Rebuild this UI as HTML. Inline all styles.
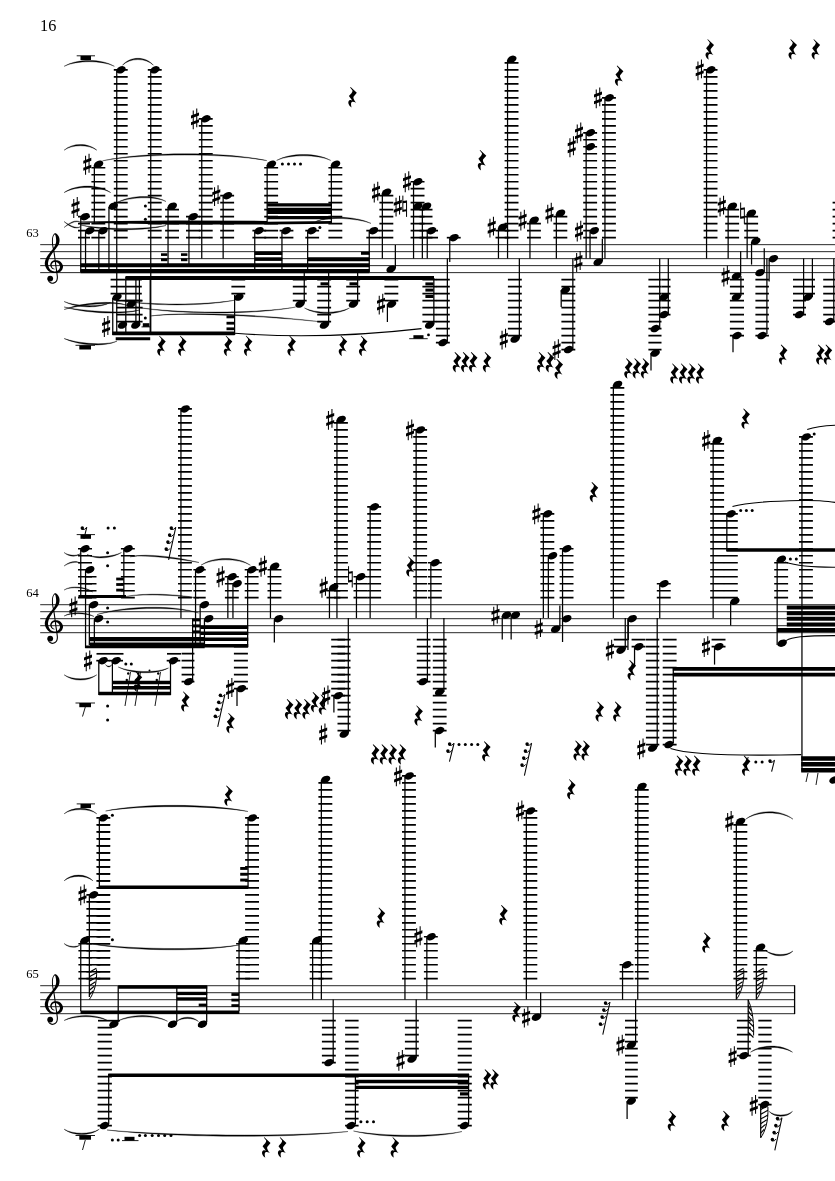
<!DOCTYPE html>
<html><head><meta charset="utf-8"><title>Score page 16</title>
<style>html,body{margin:0;padding:0;background:#fff}svg{display:block;will-change:transform}text{font-family:"Liberation Serif","DejaVu Serif",serif;fill:#000;stroke:none}</style>
</head><body>
<svg width="835" height="1181" viewBox="0 0 835 1181" fill="#000" stroke="#000" stroke-width="0">
<defs>
<ellipse id="nh" cx="0" cy="0" rx="4.95" ry="3.4" transform="rotate(-25)"/>
<g id="sh"><path d="M-1.75 -8.4V10.4M1.75 -10.4V8.4" fill="none" stroke-width="1.05"/><path d="M-4 -2.1L4 -5.1V-2.1L-4 0.9ZM-4 4.8L4 1.8V4.8L-4 7.8Z" transform="translate(0,-1.3)"/></g>
<g id="na"><path d="M-1.85 -10.6V5.6M1.85 -5.6V10.7" fill="none" stroke-width="1.0"/><path d="M-1.85 -3L1.85 -3.5V-5.6L-1.85 -5.1ZM-1.85 5.6L1.85 5.1V3L-1.85 3.5Z"/></g>
<path id="qr" transform="translate(0.5,0.6) scale(1.03)" d="M-1.9 -9.9L4.1 -4.3L0.9 -0.5C0.6 0.8 1 2.2 3.5 5.5C1.8 4.6 0.4 4.2 -0.7 4.6C-1.9 5.2 -1.6 7.6 -1 10C-3.2 8.6 -4.8 6 -3.9 4C-3.2 2.4 -1.4 2.6 -0.4 3.2L-3.6 -1.2C-1.8 -3 0.2 -5.2 -0.1 -6.6L-2.4 -9.5Z"/>
<g id="clef"><path d="M9.73 10.33L9.53 10.21L9.32 10.10L9.10 9.99L8.89 9.89L8.68 9.79L8.48 9.69L8.29 9.59L8.12 9.49L7.96 9.37L7.82 9.25L7.69 9.12L7.58 8.98L7.47 8.80L7.35 8.59L7.23 8.37L7.11 8.12L7.00 7.87L6.91 7.62L6.83 7.36L6.76 7.10L6.72 6.86L6.69 6.63L6.68 6.43L6.70 6.24L6.73 6.06L6.79 5.87L6.86 5.65L6.96 5.43L7.07 5.21L7.20 4.99L7.33 4.77L7.48 4.56L7.64 4.37L7.80 4.19L7.96 4.04L8.11 3.92L8.27 3.80L8.44 3.70L8.61 3.60L8.80 3.52L9.00 3.44L9.20 3.38L9.42 3.32L9.63 3.29L9.86 3.26L10.08 3.26L10.31 3.27L10.54 3.30L10.79 3.35L11.06 3.41L11.34 3.49L11.63 3.59L11.92 3.70L12.20 3.83L12.48 3.97L12.74 4.12L12.98 4.28L13.19 4.44L13.38 4.61L13.54 4.77L13.71 4.97L13.89 5.21L14.08 5.47L14.27 5.75L14.44 6.05L14.61 6.35L14.75 6.65L14.87 6.95L14.97 7.23L15.04 7.48L15.08 7.70L15.10 7.88L15.10 8.07L15.09 8.30L15.05 8.55L14.99 8.83L14.91 9.12L14.80 9.41L14.69 9.70L14.55 9.99L14.41 10.26L14.25 10.51L14.09 10.74L13.92 10.94L13.74 11.14L13.52 11.35L13.27 11.56L13.00 11.77L12.70 11.98L12.38 12.17L12.04 12.34L11.68 12.49L11.32 12.62L10.95 12.71L10.58 12.78L10.20 12.80L9.80 12.79L9.37 12.75L8.93 12.68L8.47 12.59L8.00 12.47L7.55 12.32L7.10 12.14L6.68 11.94L6.28 11.72L5.92 11.49L5.60 11.24L5.33 10.97L5.07 10.67L4.82 10.32L4.57 9.92L4.34 9.48L4.12 9.02L3.92 8.53L3.73 8.04L3.57 7.54L3.44 7.05L3.33 6.58L3.24 6.13L3.18 5.73L3.14 5.36L3.13 4.99L3.13 4.61L3.16 4.22L3.20 3.82L3.27 3.41L3.35 2.98L3.45 2.55L3.57 2.11L3.70 1.66L3.84 1.20L3.99 0.75L4.15 0.33L4.33 -0.10L4.53 -0.54L4.75 -0.99L4.99 -1.45L5.25 -1.91L5.52 -2.38L5.80 -2.84L6.09 -3.31L6.39 -3.79L6.69 -4.25L6.98 -4.71L7.28 -5.15L7.58 -5.58L7.90 -6.02L8.23 -6.45L8.57 -6.89L8.92 -7.32L9.27 -7.76L9.62 -8.20L9.97 -8.64L10.31 -9.08L10.65 -9.53L10.96 -9.97L11.26 -10.39L11.56 -10.80L11.86 -11.21L12.16 -11.62L12.45 -12.04L12.74 -12.45L13.02 -12.88L13.29 -13.31L13.54 -13.76L13.77 -14.22L13.97 -14.69L14.14 -15.18L14.29 -15.67L14.40 -16.17L14.50 -16.67L14.57 -17.16L14.61 -17.66L14.64 -18.15L14.64 -18.64L14.62 -19.12L14.58 -19.59L14.51 -20.05L14.43 -20.49L14.32 -20.93L14.17 -21.39L13.98 -21.84L13.77 -22.28L13.53 -22.71L13.27 -23.11L13.00 -23.50L12.72 -23.86L12.44 -24.19L12.16 -24.49L11.88 -24.76L11.61 -24.99L11.34 -25.19L11.05 -25.35L10.74 -25.45L10.43 -25.49L10.14 -25.46L9.87 -25.38L9.65 -25.27L9.44 -25.13L9.27 -24.97L9.10 -24.80L8.95 -24.62L8.81 -24.43L8.68 -24.24L8.55 -24.04L8.41 -23.82L8.28 -23.58L8.14 -23.32L8.00 -23.05L7.87 -22.75L7.74 -22.44L7.62 -22.10L7.51 -21.75L7.41 -21.37L7.32 -20.98L7.25 -20.56L7.20 -20.13L7.15 -19.67L7.11 -19.20L7.08 -18.70L7.06 -18.19L7.05 -17.65L7.05 -17.10L7.06 -16.54L7.08 -15.96L7.11 -15.37L7.15 -14.76L7.20 -14.15L7.27 -13.53L7.36 -12.90L7.46 -12.28L7.57 -11.64L7.70 -11.00L7.83 -10.34L7.96 -9.66L8.10 -8.95L8.24 -8.22L8.39 -7.46L8.52 -6.66L8.66 -5.82L8.79 -4.91L8.93 -3.92L9.07 -2.88L9.22 -1.79L9.37 -0.67L9.52 0.47L9.67 1.60L9.82 2.72L9.96 3.82L10.10 4.87L10.23 5.86L10.36 6.78L10.48 7.64L10.60 8.47L10.71 9.27L10.83 10.04L10.94 10.78L11.04 11.49L11.15 12.17L11.24 12.82L11.33 13.45L11.41 14.05L11.49 14.62L11.55 15.17L11.62 15.68L11.67 16.16L11.73 16.59L11.78 17.00L11.82 17.37L11.86 17.71L11.89 18.04L11.90 18.35L11.91 18.64L11.90 18.94L11.89 19.23L11.85 19.53L11.81 19.85L11.76 20.15L11.70 20.45L11.64 20.75L11.56 21.03L11.47 21.30L11.37 21.56L11.26 21.80L11.14 22.03L11.01 22.24L10.86 22.44L10.70 22.62L10.52 22.79L10.30 22.96L10.06 23.13L9.80 23.29L9.52 23.44L9.23 23.57L8.93 23.69L8.64 23.79L8.35 23.88L8.07 23.94L7.82 23.98L7.58 24.00L7.36 24.00L7.13 23.97L6.89 23.92L6.63 23.85L6.37 23.76L6.11 23.66L5.85 23.54L5.60 23.41L5.36 23.26L5.13 23.12L4.92 22.97L4.73 22.83L4.58 22.69L4.45 22.54L4.32 22.38L4.21 22.20L4.10 22.01L4.00 21.80L3.90 21.58L3.80 21.35L3.70 21.12L3.60 20.88L3.48 20.65L3.36 20.42L2.64 20.78L2.74 21.00L2.83 21.21L2.91 21.44L3.00 21.67L3.08 21.91L3.17 22.15L3.28 22.40L3.39 22.64L3.52 22.89L3.68 23.13L3.86 23.36L4.07 23.57L4.29 23.77L4.52 23.96L4.77 24.15L5.04 24.33L5.33 24.50L5.63 24.67L5.94 24.82L6.26 24.95L6.59 25.06L6.92 25.14L7.27 25.19L7.62 25.20L7.96 25.17L8.31 25.12L8.66 25.03L9.01 24.92L9.37 24.78L9.71 24.63L10.05 24.46L10.37 24.27L10.69 24.06L10.98 23.85L11.25 23.62L11.50 23.38L11.72 23.13L11.92 22.86L12.09 22.57L12.25 22.28L12.38 21.98L12.50 21.66L12.61 21.34L12.70 21.02L12.78 20.68L12.84 20.35L12.90 20.01L12.95 19.67L12.98 19.32L13.00 18.98L13.01 18.64L13.00 18.30L12.98 17.96L12.95 17.61L12.92 17.25L12.87 16.86L12.82 16.46L12.77 16.02L12.71 15.55L12.65 15.03L12.58 14.48L12.50 13.90L12.42 13.30L12.33 12.67L12.23 12.01L12.13 11.33L12.02 10.61L11.91 9.87L11.80 9.11L11.68 8.31L11.56 7.48L11.44 6.62L11.32 5.71L11.19 4.72L11.05 3.67L10.91 2.58L10.76 1.46L10.62 0.32L10.47 -0.81L10.32 -1.94L10.17 -3.03L10.03 -4.08L9.88 -5.07L9.74 -5.98L9.60 -6.84L9.46 -7.65L9.31 -8.43L9.16 -9.17L9.01 -9.87L8.86 -10.55L8.72 -11.20L8.59 -11.84L8.47 -12.46L8.36 -13.06L8.27 -13.66L8.20 -14.25L8.14 -14.85L8.09 -15.43L8.05 -16.01L8.02 -16.57L8.01 -17.12L8.00 -17.65L8.00 -18.16L8.01 -18.66L8.04 -19.14L8.06 -19.60L8.10 -20.03L8.15 -20.44L8.20 -20.82L8.26 -21.19L8.34 -21.53L8.42 -21.86L8.51 -22.17L8.61 -22.46L8.71 -22.73L8.82 -22.98L8.94 -23.21L9.07 -23.42L9.19 -23.60L9.32 -23.76L9.45 -23.90L9.59 -24.02L9.72 -24.12L9.85 -24.20L9.97 -24.25L10.08 -24.27L10.16 -24.26L10.21 -24.23L10.23 -24.19L10.24 -24.14L10.24 -24.09L10.26 -24.01L10.31 -23.87L10.39 -23.66L10.47 -23.40L10.56 -23.10L10.65 -22.76L10.74 -22.40L10.82 -22.03L10.90 -21.65L10.96 -21.28L11.01 -20.91L11.05 -20.58L11.08 -20.27L11.11 -19.94L11.14 -19.60L11.17 -19.25L11.20 -18.90L11.21 -18.54L11.23 -18.18L11.23 -17.81L11.22 -17.44L11.20 -17.08L11.17 -16.72L11.12 -16.37L11.06 -16.02L10.98 -15.67L10.89 -15.32L10.78 -14.95L10.65 -14.57L10.51 -14.17L10.34 -13.77L10.16 -13.36L9.97 -12.94L9.76 -12.52L9.53 -12.09L9.29 -11.66L9.04 -11.23L8.78 -10.82L8.50 -10.42L8.20 -10.01L7.87 -9.59L7.53 -9.18L7.18 -8.75L6.82 -8.32L6.45 -7.89L6.08 -7.45L5.72 -7.00L5.36 -6.54L5.02 -6.09L4.69 -5.64L4.35 -5.20L4.01 -4.75L3.67 -4.30L3.32 -3.84L2.98 -3.37L2.64 -2.89L2.32 -2.40L2.01 -1.91L1.71 -1.40L1.44 -0.88L1.21 -0.35L1.00 0.15L0.80 0.65L0.61 1.16L0.43 1.69L0.27 2.22L0.13 2.77L0.02 3.32L-0.06 3.90L-0.11 4.48L-0.11 5.07L-0.07 5.67L0.02 6.27L0.16 6.86L0.35 7.45L0.58 8.04L0.84 8.62L1.14 9.20L1.46 9.77L1.81 10.32L2.18 10.84L2.58 11.34L2.99 11.81L3.42 12.24L3.87 12.63L4.36 12.97L4.87 13.26L5.40 13.50L5.95 13.71L6.50 13.88L7.05 14.02L7.61 14.14L8.16 14.23L8.69 14.30L9.21 14.35L9.72 14.38L10.20 14.40L10.68 14.40L11.16 14.38L11.65 14.34L12.14 14.27L12.62 14.18L13.10 14.07L13.57 13.94L14.03 13.78L14.47 13.59L14.89 13.38L15.30 13.14L15.68 12.86L16.03 12.55L16.37 12.20L16.68 11.83L16.96 11.43L17.22 11.01L17.45 10.58L17.65 10.13L17.81 9.67L17.95 9.19L18.04 8.71L18.10 8.22L18.10 7.72L18.04 7.21L17.92 6.71L17.77 6.24L17.57 5.78L17.34 5.33L17.09 4.91L16.82 4.51L16.53 4.12L16.23 3.76L15.92 3.42L15.60 3.11L15.26 2.83L14.90 2.56L14.51 2.34L14.11 2.15L13.71 1.99L13.30 1.86L12.90 1.76L12.50 1.67L12.10 1.61L11.72 1.56L11.35 1.53L11.00 1.51L10.66 1.50L10.33 1.51L9.99 1.53L9.67 1.57L9.34 1.62L9.03 1.70L8.72 1.79L8.42 1.89L8.13 2.02L7.85 2.16L7.58 2.31L7.33 2.49L7.09 2.68L6.86 2.90L6.64 3.14L6.43 3.39L6.23 3.66L6.05 3.94L5.88 4.24L5.73 4.54L5.59 4.86L5.48 5.18L5.39 5.50L5.33 5.83L5.30 6.16L5.31 6.49L5.36 6.82L5.43 7.15L5.53 7.47L5.65 7.78L5.79 8.08L5.94 8.38L6.10 8.66L6.27 8.93L6.45 9.18L6.63 9.41L6.82 9.62L7.02 9.82L7.24 9.99L7.47 10.13L7.70 10.25L7.94 10.35L8.17 10.43L8.40 10.51L8.62 10.58L8.84 10.64L9.06 10.71L9.26 10.78L9.47 10.87Z"/><circle cx="5.3" cy="19.9" r="2.9"/></g>
</defs>
<text x="40" y="30.9" font-size="16.3">16</text>
<text x="26.2" y="237.3" font-size="12.6">63</text>
<line x1="40.2" y1="272.64" x2="835" y2="272.64" stroke-width="0.85"/>
<line x1="40.2" y1="265.64" x2="835" y2="265.64" stroke-width="0.85"/>
<line x1="40.2" y1="258.65" x2="835" y2="258.65" stroke-width="0.85"/>
<line x1="40.2" y1="251.66" x2="835" y2="251.66" stroke-width="0.85"/>
<line x1="40.2" y1="244.66" x2="835" y2="244.66" stroke-width="0.85"/>
<use href="#clef" x="44.9" y="258.65"/>
<path d="M64.1 66.3C76.67 60.17 101.83 60.17 114.4 66.3C101.83 58.43 76.67 58.43 64.1 66.3Z" stroke-width="0.35" stroke="#000"/>
<path d="M122.5 65.2C130.22 57.73 145.68 57.73 153.4 65.2C145.68 56 130.22 56 122.5 65.2Z" stroke-width="0.35" stroke="#000"/>
<line x1="76.7" y1="55.8" x2="95" y2="55.8" stroke-width="0.9"/>
<rect x="80.5" y="55.8" width="10.5" height="4.2"/>
<path d="M64.1 150.2C72.27 144.33 88.62 144.33 96.8 150.2C88.62 142.6 72.27 142.6 64.1 150.2Z" stroke-width="0.35" stroke="#000"/>
<path d="M64.1 192.6C75.75 185.67 99.05 185.67 110.7 192.6C99.05 183.93 75.75 183.93 64.1 192.6Z" stroke-width="0.35" stroke="#000"/>
<path d="M113.8 237.67H127.7M113.8 230.68H127.7M113.8 223.68H127.7M113.8 216.69H127.7M113.8 209.7H127.7M113.8 202.71H127.7M113.8 195.71H127.7M113.8 188.72H127.7M113.8 181.73H127.7M113.8 174.73H127.7M113.8 167.74H127.7M113.8 160.75H127.7M113.8 153.75H127.7M113.8 146.76H127.7M113.8 139.77H127.7M113.8 132.78H127.7M113.8 125.78H127.7M113.8 118.79H127.7M113.8 111.8H127.7M113.8 104.8H127.7M113.8 97.81H127.7M113.8 90.82H127.7M113.8 83.82H127.7M113.8 76.83H127.7M113.8 69.84H127.7" fill="none" stroke-width="1.7"/>
<line x1="116.75" y1="70.64" x2="116.75" y2="335" stroke-width="1.25"/>
<use href="#nh" x="121" y="69.84"/>
<path d="M147.8 237.67H161.7M147.8 230.68H161.7M147.8 223.68H161.7M147.8 216.69H161.7M147.8 209.7H161.7M147.8 202.71H161.7M147.8 195.71H161.7M147.8 188.72H161.7M147.8 181.73H161.7M147.8 174.73H161.7M147.8 167.74H161.7M147.8 160.75H161.7M147.8 153.75H161.7M147.8 146.76H161.7M147.8 139.77H161.7M147.8 132.78H161.7M147.8 125.78H161.7M147.8 118.79H161.7M147.8 111.8H161.7M147.8 104.8H161.7M147.8 97.81H161.7M147.8 90.82H161.7M147.8 83.82H161.7M147.8 76.83H161.7M147.8 69.84H161.7" fill="none" stroke-width="1.7"/>
<line x1="150.75" y1="70.64" x2="150.75" y2="335" stroke-width="1.25"/>
<use href="#nh" x="155" y="69.84"/>
<path d="M91.4 237.67H105.3M91.4 230.68H105.3M91.4 223.68H105.3M91.4 216.69H105.3M91.4 209.7H105.3M91.4 202.71H105.3M91.4 195.71H105.3M91.4 188.72H105.3M91.4 181.73H105.3M91.4 174.73H105.3M91.4 167.74H105.3" fill="none" stroke-width="1.7"/>
<line x1="94.35" y1="165.04" x2="94.35" y2="224" stroke-width="1.25"/>
<use href="#nh" x="98.6" y="164.24"/>
<use href="#sh" x="87.3" y="164.24"/>
<path d="M102.5 160.8C143.57 153.33 225.73 153.13 266.8 160.6C225.73 151.4 143.57 151.6 102.5 160.8Z" stroke-width="0.35" stroke="#000"/>
<path d="M198.8 237.67H212.7M198.8 230.68H212.7M198.8 223.68H212.7M198.8 216.69H212.7M198.8 209.7H212.7M198.8 202.71H212.7M198.8 195.71H212.7M198.8 188.72H212.7M198.8 181.73H212.7M198.8 174.73H212.7M198.8 167.74H212.7M198.8 160.75H212.7M198.8 153.75H212.7M198.8 146.76H212.7M198.8 139.77H212.7M198.8 132.78H212.7M198.8 125.78H212.7M198.8 118.79H212.7" fill="none" stroke-width="1.7"/>
<line x1="201.75" y1="119.59" x2="201.75" y2="258.5" stroke-width="1.25"/>
<use href="#nh" x="206" y="118.79"/>
<use href="#sh" x="195" y="118.79"/>
<path d="M78 237.67H90M78 230.68H90M78 223.68H90M78 216.69H90" fill="none" stroke-width="1.7"/>
<line x1="80.75" y1="217.49" x2="80.75" y2="272" stroke-width="1.25"/>
<use href="#nh" x="85" y="216.69"/>
<use href="#sh" x="75.5" y="207.5"/>
<line x1="108.95" y1="207" x2="108.95" y2="272" stroke-width="1.25"/>
<use href="#nh" x="113.2" y="206.2"/>
<path d="M116.2 203C128.65 197.13 153.55 195.63 166 201.5C153.55 193.9 128.65 195.4 116.2 203Z" stroke-width="0.35" stroke="#000"/>
<line x1="85.55" y1="231.48" x2="85.55" y2="272" stroke-width="1.25"/>
<use href="#nh" x="89.8" y="230.68"/>
<line x1="98.85" y1="231.48" x2="98.85" y2="272" stroke-width="1.25"/>
<use href="#nh" x="103.1" y="230.68"/>
<path d="M165.1 237.67H179M165.1 230.68H179M165.1 223.68H179M165.1 216.69H179M165.1 209.7H179" fill="none" stroke-width="1.7"/>
<line x1="168.05" y1="207" x2="168.05" y2="265" stroke-width="1.25"/>
<use href="#nh" x="172.3" y="206.2"/>
<path d="M186 237.67H199.9M186 230.68H199.9M186 223.68H199.9M186 216.69H199.9" fill="none" stroke-width="1.7"/>
<line x1="188.95" y1="217.49" x2="188.95" y2="265" stroke-width="1.25"/>
<use href="#nh" x="193.2" y="216.69"/>
<circle cx="145.4" cy="206" r="1.5"/>
<circle cx="145.4" cy="219.3" r="1.5"/>
<path d="M64.1 221.5C68.2 224.43 76.4 229.43 80.5 226.5C76.4 230.63 68.2 225.63 64.1 221.5Z" stroke-width="0.35" stroke="#000"/>
<path d="M64.1 227.5C68.2 224.57 76.4 219.57 80.5 222.5C76.4 218.37 68.2 223.37 64.1 227.5Z" stroke-width="0.35" stroke="#000"/>
<polygon points="80.5,221.4 120,220.9 175,220.6 267,220.9 267,224.6 175,224.4 120,223.6 80.5,222.6"/>
<polygon points="267,221.8 332,221 332,223.8 267,224.6"/>
<path d="M80.5 225C101.88 229.27 144.62 229.77 166 225.5C144.62 231.5 101.88 231 80.5 225Z" stroke-width="0.35" stroke="#000"/>
<polygon points="80.5,263.2 369.5,263.2 369.5,267.2 80.5,267.2"/>
<polygon points="80.5,269.1 369.5,269.1 369.5,273.2 80.5,273.2"/>
<rect x="161" y="253.3" width="6.4" height="2.6"/>
<rect x="161" y="258.4" width="6.4" height="2.8"/>
<rect x="181" y="253.3" width="6.4" height="2.6"/>
<rect x="181" y="258.4" width="6.4" height="2.8"/>
<polygon points="125.8,276 434,276 434,280 125.8,280"/>
<line x1="125.8" y1="276.4" x2="125.8" y2="335" stroke-width="1.25"/>
<line x1="150.2" y1="276.4" x2="150.2" y2="335" stroke-width="1.25"/>
<path d="M110.6 293.62H125.5M110.6 286.62H125.5M110.6 279.63H125.5" fill="none" stroke-width="1.7"/>
<line x1="112.75" y1="297.91" x2="112.75" y2="335" stroke-width="1.25"/>
<use href="#nh" x="117" y="297.11"/>
<path d="M125.8 300.61H141.8M125.8 293.62H141.8M125.8 286.62H141.8M125.8 279.63H141.8" fill="none" stroke-width="1.7"/>
<use href="#nh" x="131.3" y="304.1"/>
<line x1="135.9" y1="276.4" x2="135.9" y2="323" stroke-width="1.25"/>
<line x1="139.4" y1="276.4" x2="139.4" y2="323" stroke-width="1.25"/>
<path d="M116.5 321.59H142.6M116.5 314.59H142.6M116.5 307.6H142.6M116.5 300.61H142.6" fill="none" stroke-width="1.7"/>
<use href="#nh" x="122.5" y="325.08"/>
<use href="#nh" x="135.8" y="325.08"/>
<use href="#sh" x="106.1" y="326.5"/>
<rect x="142.8" y="323.2" width="6.6" height="3.7"/>
<line x1="141.5" y1="326.9" x2="150.3" y2="326.9" stroke-width="0.9"/>
<circle cx="145.3" cy="317.9" r="1.5"/>
<path d="M64.1 301.5C75.7 306.3 98.9 307.3 110.5 302.5C98.9 309.03 75.7 308.03 64.1 301.5Z" stroke-width="0.35" stroke="#000"/>
<path d="M64.1 309.5C80.07 304.97 112.03 300.97 128 305.5C112.03 299.23 80.07 303.23 64.1 309.5Z" stroke-width="0.35" stroke="#000"/>
<path d="M64.1 307C83.07 311 121.03 314 140 310C121.03 315.73 83.07 312.73 64.1 307Z" stroke-width="0.35" stroke="#000"/>
<path d="M121.5 300.5C149.62 305.3 205.88 305.1 234 300.3C205.88 306.3 149.62 306.5 121.5 300.5Z" stroke-width="0.35" stroke="#000"/>
<path d="M136 307C175.88 313.67 255.62 313.77 295.5 307.1C255.62 314.97 175.88 314.87 136 307Z" stroke-width="0.35" stroke="#000"/>
<path d="M150 316C193 311.47 279 317.47 322 322C279 316.27 193 310.27 150 316Z" stroke-width="0.35" stroke="#000"/>
<polygon points="112.4,331.6 234.6,331.6 234.6,335.2 112.4,335.2"/>
<polygon points="115.7,337.2 150.2,337.2 150.2,340.2 115.7,340.2"/>
<path d="M64.1 338.5C77.32 343.3 103.78 346 117 341.2C103.78 347.73 77.32 345.03 64.1 338.5Z" stroke-width="0.35" stroke="#000"/>
<line x1="75.5" y1="345.3" x2="95" y2="345.3" stroke-width="0.9"/>
<rect x="79.3" y="345.3" width="11.7" height="4.2"/>
<use href="#qr" x="161" y="345.3"/>
<use href="#qr" x="181.8" y="345.3"/>
<use href="#qr" x="227.6" y="345.3"/>
<use href="#qr" x="247.7" y="345.3"/>
<use href="#qr" x="291.2" y="345.3"/>
<use href="#qr" x="342.5" y="345.3"/>
<use href="#qr" x="362.7" y="345.3"/>
<path d="M235 333.3C290 337.6 350 336.8 421.5 328.6" fill="none" stroke-width="1.1"/>
<rect x="413.4" y="335.2" width="10.1" height="3.5"/>
<line x1="409.2" y1="338.7" x2="427.7" y2="338.7" stroke-width="0.9"/>
<circle cx="428.5" cy="334.9" r="1.4"/>
<path d="M220.2 237.67H234.1M220.2 230.68H234.1M220.2 223.68H234.1M220.2 216.69H234.1M220.2 209.7H234.1M220.2 202.71H234.1M220.2 195.71H234.1" fill="none" stroke-width="1.7"/>
<line x1="223.15" y1="196.51" x2="223.15" y2="258.5" stroke-width="1.25"/>
<use href="#nh" x="227.4" y="195.71"/>
<use href="#sh" x="216.3" y="195.71"/>
<path d="M264.2 237.67H278.1M264.2 230.68H278.1M264.2 223.68H278.1M264.2 216.69H278.1M264.2 209.7H278.1M264.2 202.71H278.1M264.2 195.71H278.1M264.2 188.72H278.1M264.2 181.73H278.1M264.2 174.73H278.1M264.2 167.74H278.1" fill="none" stroke-width="1.7"/>
<line x1="267.15" y1="165.04" x2="267.15" y2="222" stroke-width="1.25"/>
<use href="#nh" x="271.4" y="164.24"/>
<circle cx="282.4" cy="163.9" r="1.5"/>
<circle cx="288.5" cy="163.9" r="1.5"/>
<circle cx="294.5" cy="163.9" r="1.5"/>
<circle cx="300.5" cy="163.9" r="1.5"/>
<path d="M276.6 160.4C290.12 154.27 317.18 154.27 330.7 160.4C317.18 152.53 290.12 152.53 276.6 160.4Z" stroke-width="0.35" stroke="#000"/>
<path d="M328.4 237.67H342.3M328.4 230.68H342.3M328.4 223.68H342.3M328.4 216.69H342.3M328.4 209.7H342.3M328.4 202.71H342.3M328.4 195.71H342.3M328.4 188.72H342.3M328.4 181.73H342.3M328.4 174.73H342.3M328.4 167.74H342.3" fill="none" stroke-width="1.7"/>
<line x1="331.35" y1="165.04" x2="331.35" y2="222" stroke-width="1.25"/>
<use href="#nh" x="335.6" y="164.24"/>
<polygon points="267.2,203.2 331.8,203.2 331.8,206.5 267.2,206.5"/>
<polygon points="267.2,207.8 331.8,207.8 331.8,214 267.2,214"/>
<polygon points="267.2,216.1 331.8,216.1 331.8,219.3 267.2,219.3"/>
<path d="M252.4 237.67H266.2M252.4 230.68H266.2" fill="none" stroke-width="1.7"/>
<line x1="254.75" y1="231.48" x2="254.75" y2="272" stroke-width="1.25"/>
<use href="#nh" x="259" y="230.68"/>
<path d="M279.6 237.67H293.4M279.6 230.68H293.4" fill="none" stroke-width="1.7"/>
<line x1="281.95" y1="231.48" x2="281.95" y2="272" stroke-width="1.25"/>
<use href="#nh" x="286.2" y="230.68"/>
<path d="M305.3 237.67H319.1M305.3 230.68H319.1" fill="none" stroke-width="1.7"/>
<line x1="307.65" y1="231.48" x2="307.65" y2="272" stroke-width="1.25"/>
<use href="#nh" x="311.9" y="230.68"/>
<circle cx="319.9" cy="227.4" r="1.5"/>
<path d="M366.3 237.67H380.2M366.3 230.68H380.2" fill="none" stroke-width="1.7"/>
<line x1="369.25" y1="231.48" x2="369.25" y2="272" stroke-width="1.25"/>
<use href="#nh" x="373.5" y="230.68"/>
<path d="M315.6 221.6C329.45 216.4 357.15 218.2 371 223.4C357.15 216.47 329.45 214.67 315.6 221.6Z" stroke-width="0.35" stroke="#000"/>
<polygon points="254.8,251.5 282.2,251.5 282.2,255 254.8,255"/>
<polygon points="254.8,257.3 282.2,257.3 282.2,260.9 254.8,260.9"/>
<polygon points="307.6,257.3 369.5,257.3 369.5,261.3 307.6,261.3"/>
<rect x="361" y="251.8" width="8.5" height="3"/>
<path d="M379.4 237.67H393.3M379.4 230.68H393.3M379.4 223.68H393.3M379.4 216.69H393.3M379.4 209.7H393.3M379.4 202.71H393.3M379.4 195.71H393.3" fill="none" stroke-width="1.7"/>
<line x1="382.35" y1="193.02" x2="382.35" y2="258.5" stroke-width="1.25"/>
<use href="#nh" x="386.6" y="192.22"/>
<use href="#sh" x="376" y="192.22"/>
<use href="#sh" x="397.8" y="206.2"/>
<use href="#na" x="404.7" y="206.2"/>
<path d="M410.6 237.67H424.5M410.6 230.68H424.5M410.6 223.68H424.5M410.6 216.69H424.5M410.6 209.7H424.5M410.6 202.71H424.5M410.6 195.71H424.5M410.6 188.72H424.5M410.6 181.73H424.5" fill="none" stroke-width="1.7"/>
<line x1="413.55" y1="182.53" x2="413.55" y2="258.5" stroke-width="1.25"/>
<use href="#nh" x="417.8" y="181.73"/>
<use href="#sh" x="407" y="181.73"/>
<use href="#nh" x="417.8" y="206.2"/>
<line x1="395.35" y1="268.34" x2="395.35" y2="245" stroke-width="1.25"/>
<use href="#nh" x="391.1" y="269.14"/>
<path d="M231.4 293.62H245.2M231.4 286.62H245.2M231.4 279.63H245.2" fill="none" stroke-width="1.7"/>
<use href="#nh" x="238.9" y="297.11"/>
<line x1="234.6" y1="295" x2="234.6" y2="335" stroke-width="1.25"/>
<rect x="226.5" y="315.5" width="8" height="2.8"/>
<rect x="226.5" y="321.8" width="8" height="2.8"/>
<rect x="226.5" y="327.4" width="8" height="2.8"/>
<path d="M292.8 300.61H306.7M292.8 293.62H306.7M292.8 286.62H306.7M292.8 279.63H306.7" fill="none" stroke-width="1.7"/>
<line x1="304.25" y1="303.3" x2="304.25" y2="272" stroke-width="1.25"/>
<use href="#nh" x="300" y="304.1"/>
<path d="M317.2 321.59H331.1M317.2 314.59H331.1M317.2 307.6H331.1M317.2 300.61H331.1M317.2 293.62H331.1M317.2 286.62H331.1M317.2 279.63H331.1" fill="none" stroke-width="1.7"/>
<line x1="328.65" y1="324.28" x2="328.65" y2="272" stroke-width="1.25"/>
<use href="#nh" x="324.4" y="325.08"/>
<rect x="320.5" y="282.3" width="7.5" height="3"/>
<path d="M346.2 300.61H360.1M346.2 293.62H360.1M346.2 286.62H360.1M346.2 279.63H360.1" fill="none" stroke-width="1.7"/>
<line x1="357.65" y1="303.3" x2="357.65" y2="272" stroke-width="1.25"/>
<use href="#nh" x="353.4" y="304.1"/>
<rect x="349.5" y="282.3" width="7.5" height="3"/>
<path d="M384.4 300.61H398.3M384.4 293.62H398.3M384.4 286.62H398.3M384.4 279.63H398.3" fill="none" stroke-width="1.7"/>
<use href="#nh" x="391.6" y="304.1"/>
<use href="#sh" x="381" y="304.1"/>
<line x1="387.4" y1="304" x2="387.4" y2="322" stroke-width="1.25"/>
<path d="M304.5 308C315.75 313.6 338.25 313.6 349.5 308C338.25 315.33 315.75 315.33 304.5 308Z" stroke-width="0.35" stroke="#000"/>
<line x1="422.35" y1="207" x2="422.35" y2="258.5" stroke-width="1.25"/>
<use href="#nh" x="426.6" y="206.2"/>
<path d="M419.5 237.67H432.5M419.5 230.68H432.5M419.5 223.68H432.5M419.5 216.69H432.5M419.5 209.7H432.5" fill="none" stroke-width="1.7"/>
<path d="M425.5 237.67H438M425.5 230.68H438" fill="none" stroke-width="1.7"/>
<line x1="427.25" y1="231.48" x2="427.25" y2="258.5" stroke-width="1.25"/>
<use href="#nh" x="431.5" y="230.68"/>
<path d="M446.8 237.67H460.7" fill="none" stroke-width="1.7"/>
<line x1="449.75" y1="238.47" x2="449.75" y2="262" stroke-width="1.25"/>
<use href="#nh" x="454" y="237.67"/>
<use href="#qr" x="481.6" y="159.5"/>
<use href="#qr" x="352.1" y="96.6"/>
<path d="M495.5 237.67H509.4M495.5 230.68H509.4" fill="none" stroke-width="1.7"/>
<line x1="498.45" y1="227.98" x2="498.45" y2="258.5" stroke-width="1.25"/>
<use href="#nh" x="502.7" y="227.18"/>
<use href="#sh" x="491.7" y="227.18"/>
<path d="M504.6 237.67H518.5M504.6 230.68H518.5M504.6 223.68H518.5M504.6 216.69H518.5M504.6 209.7H518.5M504.6 202.71H518.5M504.6 195.71H518.5M504.6 188.72H518.5M504.6 181.73H518.5M504.6 174.73H518.5M504.6 167.74H518.5M504.6 160.75H518.5M504.6 153.75H518.5M504.6 146.76H518.5M504.6 139.77H518.5M504.6 132.78H518.5M504.6 125.78H518.5M504.6 118.79H518.5M504.6 111.8H518.5M504.6 104.8H518.5M504.6 97.81H518.5M504.6 90.82H518.5M504.6 83.82H518.5M504.6 76.83H518.5M504.6 69.84H518.5M504.6 62.85H518.5" fill="none" stroke-width="1.7"/>
<line x1="507.55" y1="60.15" x2="507.55" y2="258.5" stroke-width="1.25"/>
<use href="#nh" x="511.8" y="59.35"/>
<path d="M527 237.67H540.9M527 230.68H540.9M527 223.68H540.9" fill="none" stroke-width="1.7"/>
<line x1="529.95" y1="220.99" x2="529.95" y2="258.5" stroke-width="1.25"/>
<use href="#nh" x="534.2" y="220.19"/>
<use href="#sh" x="522.6" y="220.19"/>
<path d="M553.4 237.67H567.3M553.4 230.68H567.3M553.4 223.68H567.3M553.4 216.69H567.3" fill="none" stroke-width="1.7"/>
<line x1="556.35" y1="214" x2="556.35" y2="258.5" stroke-width="1.25"/>
<use href="#nh" x="560.6" y="213.2"/>
<use href="#sh" x="549.5" y="213.2"/>
<path d="M583.2 237.67H597.1M583.2 230.68H597.1M583.2 223.68H597.1M583.2 216.69H597.1M583.2 209.7H597.1M583.2 202.71H597.1M583.2 195.71H597.1M583.2 188.72H597.1M583.2 181.73H597.1M583.2 174.73H597.1M583.2 167.74H597.1M583.2 160.75H597.1M583.2 153.75H597.1M583.2 146.76H597.1M583.2 139.77H597.1M583.2 132.78H597.1" fill="none" stroke-width="1.7"/>
<line x1="586.15" y1="133.58" x2="586.15" y2="258.5" stroke-width="1.25"/>
<use href="#nh" x="590.4" y="132.78"/>
<use href="#sh" x="579" y="132.78"/>
<use href="#nh" x="590.4" y="146.76"/>
<use href="#sh" x="571.7" y="146.76"/>
<path d="M602 237.67H615.9M602 230.68H615.9M602 223.68H615.9M602 216.69H615.9M602 209.7H615.9M602 202.71H615.9M602 195.71H615.9M602 188.72H615.9M602 181.73H615.9M602 174.73H615.9M602 167.74H615.9M602 160.75H615.9M602 153.75H615.9M602 146.76H615.9M602 139.77H615.9M602 132.78H615.9M602 125.78H615.9M602 118.79H615.9M602 111.8H615.9M602 104.8H615.9M602 97.81H615.9" fill="none" stroke-width="1.7"/>
<line x1="604.95" y1="98.61" x2="604.95" y2="258.5" stroke-width="1.25"/>
<use href="#nh" x="609.2" y="97.81"/>
<use href="#sh" x="598" y="97.81"/>
<use href="#qr" x="618.7" y="75.2"/>
<line x1="590.05" y1="231.48" x2="590.05" y2="258.5" stroke-width="1.25"/>
<use href="#nh" x="594.3" y="230.68"/>
<use href="#sh" x="579" y="231.1"/>
<line x1="602.35" y1="261.35" x2="602.35" y2="238.7" stroke-width="1.25"/>
<use href="#nh" x="598.1" y="262.15"/>
<use href="#sh" x="578.4" y="261.5"/>
<path d="M422.4 321.59H436.3M422.4 314.59H436.3M422.4 307.6H436.3M422.4 300.61H436.3M422.4 293.62H436.3M422.4 286.62H436.3M422.4 279.63H436.3" fill="none" stroke-width="1.7"/>
<line x1="433.85" y1="324.28" x2="433.85" y2="278" stroke-width="1.25"/>
<use href="#nh" x="429.6" y="325.08"/>
<rect x="425.4" y="282.4" width="8.1" height="3"/>
<rect x="425.4" y="288.6" width="8.1" height="3"/>
<rect x="425.4" y="295" width="8.1" height="3"/>
<path d="M435.9 342.57H449.8M435.9 335.57H449.8M435.9 328.58H449.8M435.9 321.59H449.8M435.9 314.59H449.8M435.9 307.6H449.8M435.9 300.61H449.8M435.9 293.62H449.8M435.9 286.62H449.8M435.9 279.63H449.8" fill="none" stroke-width="1.7"/>
<line x1="447.35" y1="341.77" x2="447.35" y2="258.5" stroke-width="1.25"/>
<use href="#nh" x="443.1" y="342.57"/>
<path d="M507.9 335.57H521.8M507.9 328.58H521.8M507.9 321.59H521.8M507.9 314.59H521.8M507.9 307.6H521.8M507.9 300.61H521.8M507.9 293.62H521.8M507.9 286.62H521.8M507.9 279.63H521.8" fill="none" stroke-width="1.7"/>
<line x1="519.35" y1="338.27" x2="519.35" y2="258.5" stroke-width="1.25"/>
<use href="#nh" x="515.1" y="339.07"/>
<use href="#sh" x="503.8" y="339.07"/>
<path d="M561.4 349.56H575.3M561.4 342.57H575.3M561.4 335.57H575.3M561.4 328.58H575.3M561.4 321.59H575.3M561.4 314.59H575.3M561.4 307.6H575.3M561.4 300.61H575.3M561.4 293.62H575.3M561.4 286.62H575.3M561.4 279.63H575.3" fill="none" stroke-width="1.7"/>
<line x1="572.85" y1="348.76" x2="572.85" y2="258.5" stroke-width="1.25"/>
<use href="#nh" x="568.6" y="349.56"/>
<use href="#sh" x="556.6" y="349.56"/>
<use href="#nh" x="565.4" y="290.12"/>
<line x1="561.2" y1="290" x2="561.2" y2="307" stroke-width="1.25"/>
<use href="#qr" x="456.5" y="361.6"/>
<use href="#qr" x="464.8" y="361.6"/>
<use href="#qr" x="472.8" y="361.6"/>
<use href="#qr" x="486.6" y="361.6"/>
<use href="#qr" x="540.7" y="361.6"/>
<use href="#qr" x="549.5" y="361.6"/>
<use href="#qr" x="558.3" y="368.4"/>
<use href="#qr" x="709.3" y="48.8"/>
<use href="#qr" x="792.3" y="48.8"/>
<use href="#qr" x="815.4" y="48.8"/>
<path d="M703.6 237.67H717.5M703.6 230.68H717.5M703.6 223.68H717.5M703.6 216.69H717.5M703.6 209.7H717.5M703.6 202.71H717.5M703.6 195.71H717.5M703.6 188.72H717.5M703.6 181.73H717.5M703.6 174.73H717.5M703.6 167.74H717.5M703.6 160.75H717.5M703.6 153.75H717.5M703.6 146.76H717.5M703.6 139.77H717.5M703.6 132.78H717.5M703.6 125.78H717.5M703.6 118.79H717.5M703.6 111.8H717.5M703.6 104.8H717.5M703.6 97.81H717.5M703.6 90.82H717.5M703.6 83.82H717.5M703.6 76.83H717.5M703.6 69.84H717.5" fill="none" stroke-width="1.7"/>
<line x1="706.55" y1="70.64" x2="706.55" y2="258.5" stroke-width="1.25"/>
<use href="#nh" x="710.8" y="69.84"/>
<use href="#sh" x="699.7" y="69.84"/>
<path d="M725.2 237.67H739.1M725.2 230.68H739.1M725.2 223.68H739.1M725.2 216.69H739.1M725.2 209.7H739.1" fill="none" stroke-width="1.7"/>
<line x1="728.15" y1="207" x2="728.15" y2="258.5" stroke-width="1.25"/>
<use href="#nh" x="732.4" y="206.2"/>
<use href="#sh" x="721.8" y="206.2"/>
<path d="M744.2 237.67H758.1M744.2 230.68H758.1M744.2 223.68H758.1M744.2 216.69H758.1" fill="none" stroke-width="1.7"/>
<line x1="747.15" y1="214" x2="747.15" y2="258.5" stroke-width="1.25"/>
<use href="#nh" x="751.4" y="213.2"/>
<use href="#na" x="742.5" y="213.1"/>
<line x1="751.55" y1="241.97" x2="751.55" y2="264.6" stroke-width="1.25"/>
<use href="#nh" x="755.8" y="241.17"/>
<line x1="769.15" y1="259.45" x2="769.15" y2="281.4" stroke-width="1.25"/>
<use href="#nh" x="773.4" y="258.65"/>
<line x1="764.25" y1="271.84" x2="764.25" y2="248.3" stroke-width="1.25"/>
<use href="#nh" x="760" y="272.64"/>
<line x1="740.65" y1="275.33" x2="740.65" y2="251.3" stroke-width="1.25"/>
<use href="#nh" x="736.4" y="276.13"/>
<use href="#sh" x="725.6" y="276.13"/>
<path d="M729.9 335.57H744M729.9 328.58H744M729.9 321.59H744M729.9 314.59H744M729.9 307.6H744M729.9 300.61H744M729.9 293.62H744M729.9 286.62H744M729.9 279.63H744" fill="none" stroke-width="1.7"/>
<use href="#nh" x="736.4" y="297.11"/>
<use href="#nh" x="737" y="335.57"/>
<line x1="733" y1="335" x2="733" y2="352.3" stroke-width="1.25"/>
<path d="M755.4 335.57H768.9M755.4 328.58H768.9M755.4 321.59H768.9M755.4 314.59H768.9M755.4 307.6H768.9M755.4 300.61H768.9M755.4 293.62H768.9M755.4 286.62H768.9M755.4 279.63H768.9" fill="none" stroke-width="1.7"/>
<use href="#nh" x="762" y="335.57"/>
<line x1="766.9" y1="258.5" x2="766.9" y2="334" stroke-width="1.25"/>
<line x1="740.9" y1="276" x2="740.9" y2="296" stroke-width="1.25"/>
<path d="M648.4 349.56H661.5M648.4 342.57H661.5M648.4 335.57H661.5M648.4 328.58H661.5M648.4 321.59H661.5M648.4 314.59H661.5M648.4 307.6H661.5M648.4 300.61H661.5M648.4 293.62H661.5M648.4 286.62H661.5M648.4 279.63H661.5" fill="none" stroke-width="1.7"/>
<path d="M661.5 314.59H670.5M661.5 307.6H670.5M661.5 300.61H670.5M661.5 293.62H670.5M661.5 286.62H670.5M661.5 279.63H670.5" fill="none" stroke-width="1.7"/>
<line x1="659.7" y1="258.5" x2="659.7" y2="329" stroke-width="1.25"/>
<line x1="668.3" y1="258.5" x2="668.3" y2="314" stroke-width="1.25"/>
<use href="#nh" x="664" y="297.11"/>
<use href="#nh" x="664" y="314.59"/>
<use href="#nh" x="655.2" y="328.58"/>
<use href="#nh" x="655.2" y="353.06"/>
<line x1="651" y1="353" x2="651" y2="370.4" stroke-width="1.25"/>
<path d="M793 314.59H806M793 307.6H806M793 300.61H806M793 293.62H806M793 286.62H806M793 279.63H806" fill="none" stroke-width="1.7"/>
<path d="M806 293.62H815M806 286.62H815M806 279.63H815" fill="none" stroke-width="1.7"/>
<line x1="803.6" y1="258.5" x2="803.6" y2="315" stroke-width="1.25"/>
<line x1="812.4" y1="258.5" x2="812.4" y2="297" stroke-width="1.25"/>
<use href="#nh" x="808.1" y="297.11"/>
<use href="#nh" x="799.4" y="314.59"/>
<path d="M823.2 321.59H835M823.2 314.59H835M823.2 307.6H835M823.2 300.61H835M823.2 293.62H835M823.2 286.62H835M823.2 279.63H835" fill="none" stroke-width="1.7"/>
<line x1="833.8" y1="258.5" x2="833.8" y2="321" stroke-width="1.25"/>
<use href="#nh" x="829.6" y="321.59"/>
<path d="M832.6 237.67H835M832.6 230.68H835M832.6 223.68H835M832.6 216.69H835M832.6 209.7H835M832.6 202.71H835" fill="none" stroke-width="1.7"/>
<use href="#qr" x="628" y="367.9"/>
<use href="#qr" x="636.3" y="367.9"/>
<use href="#qr" x="644.6" y="367.9"/>
<use href="#qr" x="674" y="373"/>
<use href="#qr" x="682.8" y="373"/>
<use href="#qr" x="691.1" y="373"/>
<use href="#qr" x="699.7" y="373"/>
<use href="#qr" x="782.7" y="354.1"/>
<use href="#qr" x="819.9" y="354.1"/>
<use href="#qr" x="827.5" y="354.1"/>
<text x="26.2" y="597.2" font-size="12.6">64</text>
<line x1="40.2" y1="632.69" x2="835" y2="632.69" stroke-width="0.85"/>
<line x1="40.2" y1="625.69" x2="835" y2="625.69" stroke-width="0.85"/>
<line x1="40.2" y1="618.7" x2="835" y2="618.7" stroke-width="0.85"/>
<line x1="40.2" y1="611.71" x2="835" y2="611.71" stroke-width="0.85"/>
<line x1="40.2" y1="604.71" x2="835" y2="604.71" stroke-width="0.85"/>
<use href="#clef" x="44.9" y="618.7"/>
<line x1="76.7" y1="534.6" x2="95" y2="534.6" stroke-width="0.9"/>
<rect x="80.5" y="534.6" width="10.5" height="4.2"/>
<circle cx="82.3" cy="528.1" r="1.75"/>
<path d="M81.5 529.4Q84.7 530.3 86.6 527.5" fill="none" stroke-width="1"/>
<line x1="86.8" y1="527.2" x2="83.9" y2="538.8" stroke-width="1.05"/>
<circle cx="108.1" cy="528.1" r="1.5"/>
<circle cx="114.4" cy="528.1" r="1.5"/>
<circle cx="171.3" cy="528.1" r="1.75"/>
<path d="M170.5 529.4Q173.7 530.3 175.6 527.5" fill="none" stroke-width="1"/>
<circle cx="169.6" cy="535.09" r="1.75"/>
<path d="M168.8 536.39Q172 537.29 173.7 534.49" fill="none" stroke-width="1"/>
<circle cx="167.9" cy="542.09" r="1.75"/>
<path d="M167.1 543.39Q170.3 544.29 171.8 541.49" fill="none" stroke-width="1"/>
<circle cx="166.2" cy="549.08" r="1.75"/>
<path d="M165.4 550.38Q168.6 551.28 169.9 548.48" fill="none" stroke-width="1"/>
<line x1="175.8" y1="527.2" x2="168.6" y2="559.78" stroke-width="1.05"/>
<path d="M78 597.72H92M78 590.73H92M78 583.74H92M78 576.74H92M78 569.75H92M78 562.76H92M78 555.76H92M78 548.77H92" fill="none" stroke-width="1.7"/>
<line x1="80.75" y1="549.57" x2="80.75" y2="598" stroke-width="1.25"/>
<use href="#nh" x="85" y="548.77"/>
<path d="M120.9 597.72H134.8M120.9 590.73H134.8M120.9 583.74H134.8M120.9 576.74H134.8M120.9 569.75H134.8M120.9 562.76H134.8M120.9 555.76H134.8M120.9 548.77H134.8" fill="none" stroke-width="1.7"/>
<line x1="123.85" y1="549.57" x2="123.85" y2="598" stroke-width="1.25"/>
<use href="#nh" x="128.1" y="548.77"/>
<line x1="85.55" y1="570.55" x2="85.55" y2="648" stroke-width="1.25"/>
<use href="#nh" x="89.8" y="569.75"/>
<path d="M85.5 597.72H96.5M85.5 590.73H96.5M85.5 583.74H96.5M85.5 576.74H96.5" fill="none" stroke-width="1.7"/>
<path d="M193.4 597.72H205.7M193.4 590.73H205.7M193.4 583.74H205.7M193.4 576.74H205.7M193.4 569.75H205.7" fill="none" stroke-width="1.7"/>
<line x1="195.55" y1="570.55" x2="195.55" y2="647" stroke-width="1.25"/>
<use href="#nh" x="199.8" y="569.75"/>
<circle cx="107.6" cy="552.8" r="1.5"/>
<circle cx="107.6" cy="565.8" r="1.5"/>
<path d="M64.1 552.5C68.2 555.43 76.4 556.43 80.5 553.5C76.4 557.63 68.2 556.63 64.1 552.5Z" stroke-width="0.35" stroke="#000"/>
<path d="M64.1 566C68.2 563.33 76.4 560.83 80.5 563.5C76.4 559.63 68.2 562.13 64.1 566Z" stroke-width="0.35" stroke="#000"/>
<path d="M64.1 590C71.32 586 85.78 588 93 592C85.78 586.8 71.32 584.8 64.1 590Z" stroke-width="0.35" stroke="#000"/>
<path d="M87 554.5C95.62 558.5 112.88 556.5 121.5 552.5C112.88 558.23 95.62 560.23 87 554.5Z" stroke-width="0.35" stroke="#000"/>
<path d="M130 556.8C147.25 554.13 181.75 559.83 199 562.5C181.75 558.1 147.25 552.4 130 556.8Z" stroke-width="0.35" stroke="#000"/>
<rect x="116.2" y="577.6" width="7.6" height="2.8"/>
<rect x="116.2" y="583.1" width="7.6" height="2.8"/>
<rect x="116.2" y="588.7" width="7.6" height="2.8"/>
<polygon points="78.5,595 126,595 126,598 78.5,598"/>
<path d="M126 596.5C144.18 593.57 180.52 595.37 198.7 598.3C180.52 594.17 144.18 592.37 126 596.5Z" stroke-width="0.35" stroke="#000"/>
<use href="#sh" x="73.4" y="606.8"/>
<line x1="89.35" y1="605.51" x2="89.35" y2="645" stroke-width="1.25"/>
<use href="#nh" x="93.6" y="604.71"/>
<line x1="94.35" y1="619.5" x2="94.35" y2="646" stroke-width="1.25"/>
<use href="#nh" x="98.6" y="618.7"/>
<circle cx="107.6" cy="608" r="1.5"/>
<circle cx="107.6" cy="621.9" r="1.5"/>
<path d="M64.1 616C71.57 612.53 86.53 613.03 94 616.5C86.53 611.83 71.57 611.33 64.1 616Z" stroke-width="0.35" stroke="#000"/>
<path d="M97 614.6C122.42 607.67 173.27 606.07 198.7 613C173.27 604.33 122.42 605.93 97 614.6Z" stroke-width="0.35" stroke="#000"/>
<path d="M178 597.72H191.9M178 590.73H191.9M178 583.74H191.9M178 576.74H191.9M178 569.75H191.9M178 562.76H191.9M178 555.76H191.9M178 548.77H191.9M178 541.78H191.9M178 534.78H191.9M178 527.79H191.9M178 520.8H191.9M178 513.81H191.9M178 506.81H191.9M178 499.82H191.9M178 492.83H191.9M178 485.83H191.9M178 478.84H191.9M178 471.85H191.9M178 464.85H191.9M178 457.86H191.9M178 450.87H191.9M178 443.88H191.9M178 436.88H191.9M178 429.89H191.9M178 422.9H191.9M178 415.9H191.9M178 408.91H191.9" fill="none" stroke-width="1.7"/>
<line x1="180.95" y1="409.71" x2="180.95" y2="618" stroke-width="1.25"/>
<use href="#nh" x="185.2" y="408.91"/>
<line x1="200.15" y1="605.51" x2="200.15" y2="647" stroke-width="1.25"/>
<use href="#nh" x="204.4" y="604.71"/>
<line x1="204.45" y1="619.5" x2="204.45" y2="647" stroke-width="1.25"/>
<use href="#nh" x="208.7" y="618.7"/>
<polygon points="85.2,645.4 204.7,645.4 204.7,648.2 85.2,648.2"/>
<polygon points="89.8,637 204.7,637 204.7,641.2 89.8,641.2"/>
<polygon points="89.8,642.6 204.7,642.6 204.7,646 89.8,646"/>
<polygon points="200.3,625.4 248.2,625.4 248.2,628.9 200.3,628.9"/>
<polygon points="200.3,631.5 248.2,631.5 248.2,635 200.3,635"/>
<polygon points="200.3,637.5 248.2,637.5 248.2,641 200.3,641"/>
<polygon points="200.3,644 248.2,644 248.2,647.5 200.3,647.5"/>
<polygon points="192.6,618.4 200.3,618.4 200.3,621.4 192.6,621.4"/>
<polygon points="192.6,624.4 200.3,624.4 200.3,627.4 192.6,627.4"/>
<polygon points="192.6,630.4 200.3,630.4 200.3,633.4 192.6,633.4"/>
<line x1="192.6" y1="618.4" x2="192.6" y2="682" stroke-width="1.25"/>
<use href="#sh" x="88" y="660.8"/>
<use href="#nh" x="103.1" y="660.66"/>
<line x1="96.3" y1="660.66" x2="109.9" y2="660.66" stroke-width="1.7"/>
<use href="#nh" x="116.2" y="660.66"/>
<line x1="109.4" y1="660.66" x2="123" y2="660.66" stroke-width="1.7"/>
<use href="#nh" x="173.5" y="660.66"/>
<line x1="166.7" y1="660.66" x2="180.3" y2="660.66" stroke-width="1.7"/>
<line x1="96.5" y1="653.8" x2="123.5" y2="653.8" stroke-width="1.7"/>
<line x1="167" y1="653.8" x2="181" y2="653.8" stroke-width="1.7"/>
<line x1="98.8" y1="661" x2="98.8" y2="695" stroke-width="1.25"/>
<line x1="112.4" y1="661" x2="112.4" y2="695" stroke-width="1.25"/>
<line x1="170.5" y1="661" x2="170.5" y2="695" stroke-width="1.25"/>
<polygon points="98.8,691.8 170.8,691.8 170.8,695.3 98.8,695.3"/>
<polygon points="112.4,686 170.8,686 170.8,689.5 112.4,689.5"/>
<polygon points="112.4,680.8 170.8,680.8 170.8,684.3 112.4,684.3"/>
<circle cx="125.8" cy="664" r="1.5"/>
<circle cx="131.3" cy="664" r="1.5"/>
<path d="M64.1 674.8C72.27 680.13 88.62 680.13 96.8 674.8C88.62 681.87 72.27 681.87 64.1 674.8Z" stroke-width="0.35" stroke="#000"/>
<path d="M105.5 664.5C107.12 666.63 110.38 666.63 112 664.5C110.38 667.7 107.12 667.7 105.5 664.5Z" stroke-width="0.35" stroke="#000"/>
<path d="M118.2 667C130.78 672.33 155.93 673.33 168.5 668C155.93 675.07 130.78 674.07 118.2 667Z" stroke-width="0.35" stroke="#000"/>
<line x1="130.5" y1="672" x2="125" y2="706" stroke-width="0.9"/>
<circle cx="128.2" cy="673.5" r="1.2"/>
<circle cx="126.8" cy="680" r="1.2"/>
<line x1="140.5" y1="672" x2="135" y2="706" stroke-width="0.9"/>
<circle cx="138.2" cy="673.5" r="1.2"/>
<circle cx="136.8" cy="680" r="1.2"/>
<line x1="160.5" y1="672" x2="155" y2="706" stroke-width="0.9"/>
<circle cx="158.2" cy="673.5" r="1.2"/>
<circle cx="156.8" cy="680" r="1.2"/>
<circle cx="149.5" cy="670.5" r="1"/>
<use href="#qr" x="137.5" y="681"/>
<path d="M181.6 681.64H194.4M181.6 674.64H194.4M181.6 667.65H194.4M181.6 660.66H194.4M181.6 653.67H194.4M181.6 646.67H194.4M181.6 639.68H194.4" fill="none" stroke-width="1.7"/>
<use href="#nh" x="188.7" y="681.64"/>
<use href="#qr" x="184.9" y="701"/>
<line x1="75.5" y1="703" x2="95" y2="703" stroke-width="0.9"/>
<rect x="79.3" y="703" width="11.7" height="4.2"/>
<line x1="85.3" y1="707" x2="82.5" y2="716.5" stroke-width="0.9"/>
<circle cx="107.6" cy="706.1" r="1.5"/>
<circle cx="107.6" cy="720" r="1.5"/>
<path d="M224.9 597.72H238.8M224.9 590.73H238.8M224.9 583.74H238.8M224.9 576.74H238.8" fill="none" stroke-width="1.7"/>
<line x1="227.85" y1="577.54" x2="227.85" y2="618" stroke-width="1.25"/>
<use href="#nh" x="232.1" y="576.74"/>
<use href="#sh" x="220.6" y="576.74"/>
<line x1="232.95" y1="584.53" x2="232.95" y2="618" stroke-width="1.25"/>
<use href="#nh" x="237.2" y="583.74"/>
<path d="M244.7 597.72H258.6M244.7 590.73H258.6M244.7 583.74H258.6M244.7 576.74H258.6M244.7 569.75H258.6" fill="none" stroke-width="1.7"/>
<line x1="247.65" y1="570.55" x2="247.65" y2="647" stroke-width="1.25"/>
<use href="#nh" x="251.9" y="569.75"/>
<path d="M201 565.2C213.35 558 238.05 558 250.4 565.2C238.05 556.27 213.35 556.27 201 565.2Z" stroke-width="0.35" stroke="#000"/>
<path d="M267.5 597.72H281.4M267.5 590.73H281.4M267.5 583.74H281.4M267.5 576.74H281.4M267.5 569.75H281.4" fill="none" stroke-width="1.7"/>
<line x1="270.45" y1="567.05" x2="270.45" y2="618" stroke-width="1.25"/>
<use href="#nh" x="274.7" y="566.25"/>
<use href="#sh" x="262.8" y="566.25"/>
<line x1="274.35" y1="619.5" x2="274.35" y2="642.5" stroke-width="1.25"/>
<use href="#nh" x="278.6" y="618.7"/>
<path d="M326.5 597.72H340.4M326.5 590.73H340.4" fill="none" stroke-width="1.7"/>
<line x1="329.45" y1="588.03" x2="329.45" y2="618" stroke-width="1.25"/>
<use href="#nh" x="333.7" y="587.23"/>
<use href="#sh" x="323.7" y="587.23"/>
<path d="M334 597.72H347.9M334 590.73H347.9M334 583.74H347.9M334 576.74H347.9M334 569.75H347.9M334 562.76H347.9M334 555.76H347.9M334 548.77H347.9M334 541.78H347.9M334 534.78H347.9M334 527.79H347.9M334 520.8H347.9M334 513.81H347.9M334 506.81H347.9M334 499.82H347.9M334 492.83H347.9M334 485.83H347.9M334 478.84H347.9M334 471.85H347.9M334 464.85H347.9M334 457.86H347.9M334 450.87H347.9M334 443.88H347.9M334 436.88H347.9M334 429.89H347.9M334 422.9H347.9" fill="none" stroke-width="1.7"/>
<line x1="336.95" y1="420.2" x2="336.95" y2="618" stroke-width="1.25"/>
<use href="#nh" x="341.2" y="419.4"/>
<use href="#sh" x="330.2" y="419.4"/>
<path d="M353.5 597.72H367.4M353.5 590.73H367.4M353.5 583.74H367.4M353.5 576.74H367.4" fill="none" stroke-width="1.7"/>
<line x1="356.45" y1="577.54" x2="356.45" y2="618" stroke-width="1.25"/>
<use href="#nh" x="360.7" y="576.74"/>
<use href="#na" x="350.4" y="576.8"/>
<path d="M367.2 597.72H381.1M367.2 590.73H381.1M367.2 583.74H381.1M367.2 576.74H381.1M367.2 569.75H381.1M367.2 562.76H381.1M367.2 555.76H381.1M367.2 548.77H381.1M367.2 541.78H381.1M367.2 534.78H381.1M367.2 527.79H381.1M367.2 520.8H381.1M367.2 513.81H381.1M367.2 506.81H381.1" fill="none" stroke-width="1.7"/>
<line x1="370.15" y1="507.61" x2="370.15" y2="618" stroke-width="1.25"/>
<use href="#nh" x="374.4" y="506.81"/>
<use href="#qr" x="410" y="566"/>
<path d="M413.2 597.72H427.1M413.2 590.73H427.1M413.2 583.74H427.1M413.2 576.74H427.1M413.2 569.75H427.1M413.2 562.76H427.1M413.2 555.76H427.1M413.2 548.77H427.1M413.2 541.78H427.1M413.2 534.78H427.1M413.2 527.79H427.1M413.2 520.8H427.1M413.2 513.81H427.1M413.2 506.81H427.1M413.2 499.82H427.1M413.2 492.83H427.1M413.2 485.83H427.1M413.2 478.84H427.1M413.2 471.85H427.1M413.2 464.85H427.1M413.2 457.86H427.1M413.2 450.87H427.1M413.2 443.88H427.1M413.2 436.88H427.1M413.2 429.89H427.1" fill="none" stroke-width="1.7"/>
<line x1="416.15" y1="430.69" x2="416.15" y2="618" stroke-width="1.25"/>
<use href="#nh" x="420.4" y="429.89"/>
<use href="#sh" x="410" y="429.89"/>
<path d="M233.9 688.63H247.9M233.9 681.64H247.9M233.9 674.64H247.9M233.9 667.65H247.9M233.9 660.66H247.9M233.9 653.67H247.9M233.9 646.67H247.9M233.9 639.68H247.9" fill="none" stroke-width="1.7"/>
<use href="#nh" x="241.4" y="688.63"/>
<use href="#sh" x="230.1" y="688.5"/>
<line x1="237" y1="689" x2="237" y2="706" stroke-width="1.25"/>
<circle cx="220.4" cy="695.3" r="1.75"/>
<path d="M219.6 696.6Q222.8 697.5 224.7 694.7" fill="none" stroke-width="1"/>
<circle cx="218.7" cy="702.29" r="1.75"/>
<path d="M217.9 703.59Q221.1 704.49 222.8 701.69" fill="none" stroke-width="1"/>
<circle cx="217" cy="709.29" r="1.75"/>
<path d="M216.2 710.59Q219.4 711.49 220.9 708.69" fill="none" stroke-width="1"/>
<circle cx="215.3" cy="716.28" r="1.75"/>
<path d="M214.5 717.58Q217.7 718.48 219 715.68" fill="none" stroke-width="1"/>
<line x1="224.9" y1="694.4" x2="217.7" y2="726.98" stroke-width="1.05"/>
<use href="#qr" x="230.1" y="722.5"/>
<path d="M331.2 695.62H345M331.2 688.63H345M331.2 681.64H345M331.2 674.64H345M331.2 667.65H345M331.2 660.66H345M331.2 653.67H345M331.2 646.67H345M331.2 639.68H345" fill="none" stroke-width="1.7"/>
<path d="M337.5 730.59H350.5M337.5 723.6H350.5M337.5 716.6H350.5M337.5 709.61H350.5M337.5 702.62H350.5M337.5 695.62H350.5M337.5 688.63H350.5M337.5 681.64H350.5M337.5 674.64H350.5M337.5 667.65H350.5M337.5 660.66H350.5M337.5 653.67H350.5M337.5 646.67H350.5M337.5 639.68H350.5" fill="none" stroke-width="1.7"/>
<line x1="348.3" y1="618" x2="348.3" y2="733" stroke-width="1.25"/>
<use href="#nh" x="338.3" y="695.62"/>
<use href="#sh" x="326.2" y="696"/>
<line x1="333.9" y1="696" x2="333.9" y2="712.4" stroke-width="1.25"/>
<use href="#nh" x="344.2" y="734.08"/>
<use href="#sh" x="323.2" y="734"/>
<use href="#qr" x="288.7" y="708.6"/>
<use href="#qr" x="297.5" y="708.6"/>
<use href="#qr" x="306.1" y="708.6"/>
<use href="#qr" x="314.6" y="701.6"/>
<use href="#qr" x="322.5" y="704"/>
<use href="#qr" x="374.7" y="753.9"/>
<use href="#qr" x="383.5" y="753.9"/>
<use href="#qr" x="392.3" y="753.9"/>
<use href="#qr" x="401.6" y="753.9"/>
<use href="#qr" x="418.2" y="715"/>
<path d="M427.9 597.72H441.8M427.9 590.73H441.8M427.9 583.74H441.8M427.9 576.74H441.8M427.9 569.75H441.8M427.9 562.76H441.8" fill="none" stroke-width="1.7"/>
<line x1="430.85" y1="563.56" x2="430.85" y2="618" stroke-width="1.25"/>
<use href="#nh" x="435.1" y="562.76"/>
<path d="M416.8 681.64H430.5M416.8 674.64H430.5M416.8 667.65H430.5M416.8 660.66H430.5M416.8 653.67H430.5M416.8 646.67H430.5M416.8 639.68H430.5" fill="none" stroke-width="1.7"/>
<line x1="427.4" y1="618" x2="427.4" y2="681" stroke-width="1.25"/>
<use href="#nh" x="423.1" y="681.64"/>
<path d="M432.8 730.59H446.6M432.8 723.6H446.6M432.8 716.6H446.6M432.8 709.61H446.6M432.8 702.62H446.6M432.8 695.62H446.6M432.8 688.63H446.6M432.8 681.64H446.6M432.8 674.64H446.6M432.8 667.65H446.6M432.8 660.66H446.6M432.8 653.67H446.6M432.8 646.67H446.6M432.8 639.68H446.6" fill="none" stroke-width="1.7"/>
<line x1="443.9" y1="618" x2="443.9" y2="692" stroke-width="1.25"/>
<use href="#nh" x="439.6" y="692.13"/>
<use href="#nh" x="439.6" y="730.59"/>
<line x1="435.3" y1="731" x2="435.3" y2="747.6" stroke-width="1.25"/>
<use href="#sh" x="495.5" y="615.1"/>
<line x1="502.25" y1="616" x2="502.25" y2="639.5" stroke-width="1.25"/>
<use href="#nh" x="506.5" y="615.2"/>
<line x1="511.15" y1="616" x2="511.15" y2="639.5" stroke-width="1.25"/>
<use href="#nh" x="515.4" y="615.2"/>
<path d="M540.4 597.72H554.3M540.4 590.73H554.3M540.4 583.74H554.3M540.4 576.74H554.3M540.4 569.75H554.3M540.4 562.76H554.3M540.4 555.76H554.3M540.4 548.77H554.3M540.4 541.78H554.3M540.4 534.78H554.3M540.4 527.79H554.3M540.4 520.8H554.3M540.4 513.81H554.3" fill="none" stroke-width="1.7"/>
<line x1="543.35" y1="514.61" x2="543.35" y2="618" stroke-width="1.25"/>
<use href="#nh" x="547.6" y="513.81"/>
<use href="#sh" x="536.4" y="513.81"/>
<line x1="548.35" y1="556.56" x2="548.35" y2="618" stroke-width="1.25"/>
<use href="#nh" x="552.6" y="555.76"/>
<path d="M559.6 597.72H573.5M559.6 590.73H573.5M559.6 583.74H573.5M559.6 576.74H573.5M559.6 569.75H573.5M559.6 562.76H573.5M559.6 555.76H573.5M559.6 548.77H573.5" fill="none" stroke-width="1.7"/>
<line x1="562.55" y1="549.57" x2="562.55" y2="642" stroke-width="1.25"/>
<use href="#nh" x="566.8" y="548.77"/>
<line x1="559.85" y1="628.39" x2="559.85" y2="605.5" stroke-width="1.25"/>
<use href="#nh" x="555.6" y="629.19"/>
<use href="#sh" x="538.7" y="628.6"/>
<use href="#nh" x="566.8" y="618.7"/>
<use href="#qr" x="593.5" y="491.6"/>
<use href="#qr" x="745.2" y="418.2"/>
<path d="M610.4 597.72H624.3M610.4 590.73H624.3M610.4 583.74H624.3M610.4 576.74H624.3M610.4 569.75H624.3M610.4 562.76H624.3M610.4 555.76H624.3M610.4 548.77H624.3M610.4 541.78H624.3M610.4 534.78H624.3M610.4 527.79H624.3M610.4 520.8H624.3M610.4 513.81H624.3M610.4 506.81H624.3M610.4 499.82H624.3M610.4 492.83H624.3M610.4 485.83H624.3M610.4 478.84H624.3M610.4 471.85H624.3M610.4 464.85H624.3M610.4 457.86H624.3M610.4 450.87H624.3M610.4 443.88H624.3M610.4 436.88H624.3M610.4 429.89H624.3M610.4 422.9H624.3M610.4 415.9H624.3M610.4 408.91H624.3M610.4 401.92H624.3M610.4 394.92H624.3M610.4 387.93H624.3" fill="none" stroke-width="1.7"/>
<line x1="613.35" y1="385.23" x2="613.35" y2="618" stroke-width="1.25"/>
<use href="#nh" x="617.6" y="384.43"/>
<path d="M613.8 646.67H627.7M613.8 639.68H627.7" fill="none" stroke-width="1.7"/>
<line x1="625.25" y1="649.37" x2="625.25" y2="618" stroke-width="1.25"/>
<use href="#nh" x="621" y="650.17"/>
<use href="#sh" x="609.9" y="650.17"/>
<line x1="628.3" y1="618" x2="628.3" y2="640" stroke-width="1.25"/>
<use href="#qr" x="599.3" y="711.1"/>
<use href="#qr" x="616.9" y="711.1"/>
<circle cx="449.6" cy="744" r="1.75"/>
<path d="M448.8 745.3Q452 746.2 453.9 743.4" fill="none" stroke-width="1"/>
<circle cx="447.9" cy="750.99" r="1.75"/>
<path d="M447.1 752.29Q450.3 753.19 452 750.39" fill="none" stroke-width="1"/>
<line x1="454.1" y1="743.1" x2="449.45" y2="761.69" stroke-width="1.05"/>
<circle cx="459" cy="744.6" r="1.5"/>
<circle cx="465.3" cy="744.6" r="1.5"/>
<circle cx="471.6" cy="744.6" r="1.5"/>
<circle cx="477.8" cy="744.6" r="1.5"/>
<use href="#qr" x="485.9" y="750.9"/>
<circle cx="527.1" cy="744" r="1.75"/>
<path d="M526.3 745.3Q529.5 746.2 531.4 743.4" fill="none" stroke-width="1"/>
<circle cx="525.4" cy="750.99" r="1.75"/>
<path d="M524.6 752.29Q527.8 753.19 529.5 750.39" fill="none" stroke-width="1"/>
<circle cx="523.7" cy="757.99" r="1.75"/>
<path d="M522.9 759.29Q526.1 760.19 527.6 757.39" fill="none" stroke-width="1"/>
<circle cx="522" cy="764.98" r="1.75"/>
<path d="M521.2 766.28Q524.4 767.18 525.7 764.38" fill="none" stroke-width="1"/>
<line x1="531.6" y1="743.1" x2="524.4" y2="775.68" stroke-width="1.05"/>
<use href="#qr" x="577.2" y="750.1"/>
<use href="#qr" x="585.2" y="750.1"/>
<line x1="627.95" y1="619.5" x2="627.95" y2="650" stroke-width="1.25"/>
<use href="#nh" x="632.2" y="618.7"/>
<path d="M631.6 646.67H645.5M631.6 639.68H645.5" fill="none" stroke-width="1.7"/>
<line x1="634.55" y1="647.47" x2="634.55" y2="666" stroke-width="1.25"/>
<use href="#nh" x="638.8" y="646.67"/>
<use href="#qr" x="631.3" y="669.6"/>
<path d="M656.8 597.72H670.7M656.8 590.73H670.7M656.8 583.74H670.7" fill="none" stroke-width="1.7"/>
<line x1="659.75" y1="584.53" x2="659.75" y2="618" stroke-width="1.25"/>
<use href="#nh" x="664" y="583.74"/>
<path d="M645.9 744.57H659.3M645.9 737.58H659.3M645.9 730.59H659.3M645.9 723.6H659.3M645.9 716.6H659.3M645.9 709.61H659.3M645.9 702.62H659.3M645.9 695.62H659.3M645.9 688.63H659.3M645.9 681.64H659.3M645.9 674.64H659.3M645.9 667.65H659.3M645.9 660.66H659.3M645.9 653.67H659.3M645.9 646.67H659.3M645.9 639.68H659.3" fill="none" stroke-width="1.7"/>
<line x1="657.2" y1="618" x2="657.2" y2="747" stroke-width="1.25"/>
<use href="#nh" x="652.6" y="748.07"/>
<use href="#sh" x="641.3" y="748.9"/>
<path d="M662.7 744.57H676.6M662.7 737.58H676.6M662.7 730.59H676.6M662.7 723.6H676.6M662.7 716.6H676.6M662.7 709.61H676.6M662.7 702.62H676.6M662.7 695.62H676.6M662.7 688.63H676.6M662.7 681.64H676.6M662.7 674.64H676.6M662.7 667.65H676.6M662.7 660.66H676.6M662.7 653.67H676.6M662.7 646.67H676.6M662.7 639.68H676.6" fill="none" stroke-width="1.7"/>
<line x1="673.3" y1="668" x2="673.3" y2="743" stroke-width="1.25"/>
<use href="#nh" x="669" y="744.57"/>
<polygon points="672.8,667 835,667 835,670.8 672.8,670.8"/>
<polygon points="672.8,672.7 835,672.7 835,676.5 672.8,676.5"/>
<path d="M670.5 748.5C690 755 740 756 801.2 754.6" fill="none" stroke-width="1.1"/>
<use href="#qr" x="678.6" y="765.2"/>
<use href="#qr" x="687.1" y="765.2"/>
<use href="#qr" x="695.9" y="765.2"/>
<use href="#qr" x="745.7" y="765.2"/>
<line x1="748.2" y1="757" x2="743.5" y2="773" stroke-width="0.9"/>
<circle cx="755.8" cy="762" r="1.5"/>
<circle cx="762.1" cy="762" r="1.5"/>
<circle cx="770" cy="761" r="1.75"/>
<path d="M769.2 762.3Q772.4 763.2 774.3 760.4" fill="none" stroke-width="1"/>
<line x1="774.5" y1="760.1" x2="771.6" y2="771.7" stroke-width="1.05"/>
<path d="M710.2 597.72H724.1M710.2 590.73H724.1M710.2 583.74H724.1M710.2 576.74H724.1M710.2 569.75H724.1M710.2 562.76H724.1M710.2 555.76H724.1M710.2 548.77H724.1M710.2 541.78H724.1M710.2 534.78H724.1M710.2 527.79H724.1M710.2 520.8H724.1M710.2 513.81H724.1M710.2 506.81H724.1M710.2 499.82H724.1M710.2 492.83H724.1M710.2 485.83H724.1M710.2 478.84H724.1M710.2 471.85H724.1M710.2 464.85H724.1M710.2 457.86H724.1M710.2 450.87H724.1M710.2 443.88H724.1" fill="none" stroke-width="1.7"/>
<line x1="713.15" y1="441.18" x2="713.15" y2="618" stroke-width="1.25"/>
<use href="#nh" x="717.4" y="440.38"/>
<use href="#sh" x="706.2" y="440.38"/>
<path d="M723.9 597.72H737.8M723.9 590.73H737.8M723.9 583.74H737.8M723.9 576.74H737.8M723.9 569.75H737.8M723.9 562.76H737.8M723.9 555.76H737.8M723.9 548.77H737.8M723.9 541.78H737.8M723.9 534.78H737.8M723.9 527.79H737.8M723.9 520.8H737.8M723.9 513.81H737.8" fill="none" stroke-width="1.7"/>
<line x1="726.85" y1="514.61" x2="726.85" y2="551" stroke-width="1.25"/>
<use href="#nh" x="731.1" y="513.81"/>
<circle cx="740.7" cy="510.6" r="1.5"/>
<circle cx="746.4" cy="510.6" r="1.5"/>
<circle cx="752.2" cy="510.6" r="1.5"/>
<path d="M732.5 506.6C745 502.6 775 501 801 500.5S825 501.6 835 502.4" fill="none" stroke-width="1.1"/>
<polygon points="726.4,548.2 835,548.2 835,551.8 726.4,551.8"/>
<line x1="730.65" y1="602.02" x2="730.65" y2="625.6" stroke-width="1.25"/>
<use href="#nh" x="734.9" y="601.22"/>
<path d="M711.6 646.67H725.5M711.6 639.68H725.5" fill="none" stroke-width="1.7"/>
<line x1="714.55" y1="647.47" x2="714.55" y2="664.6" stroke-width="1.25"/>
<use href="#nh" x="718.8" y="646.67"/>
<use href="#sh" x="706" y="646.67"/>
<path d="M799 597.72H812.9M799 590.73H812.9M799 583.74H812.9M799 576.74H812.9M799 569.75H812.9M799 562.76H812.9M799 555.76H812.9M799 548.77H812.9M799 541.78H812.9M799 534.78H812.9M799 527.79H812.9M799 520.8H812.9M799 513.81H812.9M799 506.81H812.9M799 499.82H812.9M799 492.83H812.9M799 485.83H812.9M799 478.84H812.9M799 471.85H812.9M799 464.85H812.9M799 457.86H812.9M799 450.87H812.9M799 443.88H812.9M799 436.88H812.9" fill="none" stroke-width="1.7"/>
<line x1="801.95" y1="437.68" x2="801.95" y2="771.5" stroke-width="1.25"/>
<use href="#nh" x="806.2" y="436.88"/>
<circle cx="814.2" cy="433.9" r="1.5"/>
<path d="M807.2 429.6C814 427 824 425.6 835 425.2" fill="none" stroke-width="1.1"/>
<path d="M774.2 597.72H788.1M774.2 590.73H788.1M774.2 583.74H788.1M774.2 576.74H788.1M774.2 569.75H788.1M774.2 562.76H788.1" fill="none" stroke-width="1.7"/>
<line x1="777.15" y1="560.06" x2="777.15" y2="645" stroke-width="1.25"/>
<use href="#nh" x="781.4" y="559.26"/>
<circle cx="790.4" cy="558.9" r="1.5"/>
<circle cx="796.3" cy="558.9" r="1.5"/>
<path d="M785 562C797 566 815 567.3 835 567.2" fill="none" stroke-width="1.1"/>
<use href="#nh" x="782.2" y="643.18"/>
<path d="M786 640.6C792 637 802 635.6 835 635.6" fill="none" stroke-width="1.1"/>
<polygon points="776.8,628 835,628 835,632.3 776.8,632.3"/>
<polygon points="786.8,605.6 835,605.6 835,609.6 786.8,609.6"/>
<polygon points="786.8,611.2 835,611.2 835,615.2 786.8,615.2"/>
<polygon points="786.8,616.8 835,616.8 835,620.8 786.8,620.8"/>
<polygon points="786.8,622.4 835,622.4 835,626.4 786.8,626.4"/>
<polygon points="801.2,756.3 835,756.3 835,760.8 801.2,760.8"/>
<polygon points="801.2,762 835,762 835,766.5 801.2,766.5"/>
<polygon points="801.2,767.9 835,767.9 835,772.4 801.2,772.4"/>
<line x1="808" y1="773" x2="806" y2="782" stroke-width="0.9"/>
<line x1="818" y1="773" x2="816" y2="785" stroke-width="0.9"/>
<use href="#nh" x="834" y="780"/>
<text x="26.2" y="977.6" font-size="12.6">65</text>
<line x1="40.2" y1="1013.69" x2="794.8" y2="1013.69" stroke-width="0.85"/>
<line x1="40.2" y1="1006.69" x2="794.8" y2="1006.69" stroke-width="0.85"/>
<line x1="40.2" y1="999.7" x2="794.8" y2="999.7" stroke-width="0.85"/>
<line x1="40.2" y1="992.71" x2="794.8" y2="992.71" stroke-width="0.85"/>
<line x1="40.2" y1="985.71" x2="794.8" y2="985.71" stroke-width="0.85"/>
<line x1="794.6" y1="985.31" x2="794.6" y2="1014.09" stroke-width="1.3"/>
<use href="#clef" x="44.9" y="999.7"/>
<line x1="76.7" y1="803.9" x2="95" y2="803.9" stroke-width="0.9"/>
<rect x="80.5" y="803.9" width="10.5" height="4.2"/>
<path d="M64.1 813.8C72.27 808.2 88.62 808.2 96.8 813.8C88.62 806.47 72.27 806.47 64.1 813.8Z" stroke-width="0.35" stroke="#000"/>
<path d="M96.4 978.72H110.3M96.4 971.73H110.3M96.4 964.74H110.3M96.4 957.74H110.3M96.4 950.75H110.3M96.4 943.76H110.3M96.4 936.76H110.3M96.4 929.77H110.3M96.4 922.78H110.3M96.4 915.78H110.3M96.4 908.79H110.3M96.4 901.8H110.3M96.4 894.81H110.3M96.4 887.81H110.3M96.4 880.82H110.3M96.4 873.83H110.3M96.4 866.83H110.3M96.4 859.84H110.3M96.4 852.85H110.3M96.4 845.85H110.3M96.4 838.86H110.3M96.4 831.87H110.3M96.4 824.88H110.3M96.4 817.88H110.3" fill="none" stroke-width="1.7"/>
<line x1="99.35" y1="818.68" x2="99.35" y2="888" stroke-width="1.25"/>
<use href="#nh" x="103.6" y="817.88"/>
<path d="M97.6 978.72H110M97.6 971.73H110M97.6 964.74H110M97.6 957.74H110M97.6 950.75H110M97.6 943.76H110M97.6 936.76H110M97.6 929.77H110M97.6 922.78H110M97.6 915.78H110M97.6 908.79H110M97.6 901.8H110M97.6 894.81H110M97.6 887.81H110M97.6 880.82H110M97.6 873.83H110M97.6 866.83H110M97.6 859.84H110M97.6 852.85H110M97.6 845.85H110M97.6 838.86H110M97.6 831.87H110M97.6 824.88H110" fill="none" stroke-width="1.7"/>
<circle cx="112.4" cy="815.2" r="1.5"/>
<path d="M105.6 811C141.2 804.87 212.4 805.37 248 811.5C212.4 803.63 141.2 803.13 105.6 811Z" stroke-width="0.35" stroke="#000"/>
<polygon points="98.8,885.5 248.2,885.5 248.2,888.9 98.8,888.9"/>
<path d="M64.1 880.8C71.32 874.93 85.78 874.93 93 880.8C85.78 873.2 71.32 873.2 64.1 880.8Z" stroke-width="0.35" stroke="#000"/>
<path d="M86.4 978.72H100.3M86.4 971.73H100.3M86.4 964.74H100.3M86.4 957.74H100.3M86.4 950.75H100.3M86.4 943.76H100.3M86.4 936.76H100.3M86.4 929.77H100.3M86.4 922.78H100.3M86.4 915.78H100.3M86.4 908.79H100.3M86.4 901.8H100.3M86.4 894.81H100.3" fill="none" stroke-width="1.7"/>
<line x1="89.35" y1="895.61" x2="89.35" y2="997" stroke-width="1.25"/>
<use href="#nh" x="93.6" y="894.81"/>
<use href="#sh" x="82.5" y="894.81"/>
<path d="M78.4 978.72H91.8M78.4 971.73H91.8M78.4 964.74H91.8M78.4 957.74H91.8M78.4 950.75H91.8M78.4 943.76H91.8" fill="none" stroke-width="1.7"/>
<line x1="80.75" y1="941.06" x2="80.75" y2="1011" stroke-width="1.25"/>
<use href="#nh" x="85" y="940.26"/>
<circle cx="112.4" cy="939.7" r="1.5"/>
<path d="M64.1 943.5C68.2 946.7 76.4 947.7 80.5 944.5C76.4 948.9 68.2 947.9 64.1 943.5Z" stroke-width="0.35" stroke="#000"/>
<path d="M89.3 943.5C126.72 949.1 201.57 950.6 239 945C201.57 952.33 126.72 950.83 89.3 943.5Z" stroke-width="0.35" stroke="#000"/>
<path d="M89.35 999.4C93.31 994 97.27 984.4 96.55 969.4" fill="none" stroke-width="1"/>
<line x1="89.35" y1="994.85" x2="93.07" y2="990.85" stroke-width="1.15"/>
<line x1="89.35" y1="990.31" x2="94.27" y2="986.31" stroke-width="1.15"/>
<line x1="89.35" y1="985.76" x2="95.47" y2="981.76" stroke-width="1.15"/>
<line x1="89.35" y1="981.22" x2="96.55" y2="977.22" stroke-width="1.15"/>
<line x1="89.35" y1="976.67" x2="96.55" y2="972.67" stroke-width="1.15"/>
<line x1="89.35" y1="972.13" x2="96.41" y2="968.13" stroke-width="1.15"/>
<polygon points="80.5,1010.4 239.4,1010.4 239.4,1013.9 80.5,1013.9"/>
<polygon points="118.2,985.2 207.2,985.2 207.2,988.7 118.2,988.7"/>
<line x1="118.2" y1="986" x2="118.2" y2="1022" stroke-width="1.25"/>
<line x1="176.8" y1="986" x2="176.8" y2="1022" stroke-width="1.25"/>
<line x1="206.7" y1="986" x2="206.7" y2="1022" stroke-width="1.25"/>
<polygon points="176.8,991.8 207.2,991.8 207.2,995.1 176.8,995.1"/>
<polygon points="176.8,997.3 207.2,997.3 207.2,1000.6 176.8,1000.6"/>
<rect x="198.7" y="1003.6" width="8.4" height="2.8"/>
<use href="#nh" x="113.9" y="1024.18"/>
<use href="#nh" x="172.5" y="1024.18"/>
<use href="#nh" x="202.5" y="1024.18"/>
<line x1="98" y1="1020.68" x2="120" y2="1020.68" stroke-width="1.7"/>
<path d="M64.1 1020.5C74.95 1015.43 96.65 1015.43 107.5 1020.5C96.65 1013.7 74.95 1013.7 64.1 1020.5Z" stroke-width="0.35" stroke="#000"/>
<path d="M117.5 1021.2C130 1015.33 155 1015.33 167.5 1021.2C155 1013.6 130 1013.6 117.5 1021.2Z" stroke-width="0.35" stroke="#000"/>
<path d="M176.5 1021.5C182 1017.5 193 1017.5 198.5 1021.5C193 1015.77 182 1015.77 176.5 1021.5Z" stroke-width="0.35" stroke="#000"/>
<path d="M97.6 1125.57H111.9M97.6 1118.58H111.9M97.6 1111.59H111.9M97.6 1104.6H111.9M97.6 1097.6H111.9M97.6 1090.61H111.9M97.6 1083.62H111.9M97.6 1076.62H111.9M97.6 1069.63H111.9M97.6 1062.64H111.9M97.6 1055.64H111.9M97.6 1048.65H111.9M97.6 1041.66H111.9M97.6 1034.66H111.9M97.6 1027.67H111.9" fill="none" stroke-width="1.7"/>
<use href="#nh" x="104.4" y="1125.57"/>
<line x1="108.7" y1="1074" x2="108.7" y2="1124" stroke-width="1.25"/>
<polygon points="108.3,1073.4 469,1073.4 469,1077 108.3,1077"/>
<path d="M64.1 1129.2C72.9 1134.53 90.5 1134.53 99.3 1129.2C90.5 1136.27 72.9 1136.27 64.1 1129.2Z" stroke-width="0.35" stroke="#000"/>
<path d="M107 1130C167.25 1135.6 287.75 1137.1 348 1131.5C287.75 1138.83 167.25 1137.33 107 1130Z" stroke-width="0.35" stroke="#000"/>
<line x1="75.5" y1="1135.5" x2="95" y2="1135.5" stroke-width="0.9"/>
<rect x="79.3" y="1135.5" width="11.7" height="4.2"/>
<line x1="85.3" y1="1140" x2="82.5" y2="1150" stroke-width="0.9"/>
<circle cx="112.4" cy="1140" r="1.5"/>
<circle cx="118.2" cy="1140" r="1.5"/>
<rect x="124.5" y="1136.8" width="10" height="3.8"/>
<line x1="122" y1="1140.6" x2="138.5" y2="1140.6" stroke-width="0.9"/>
<circle cx="139.6" cy="1135.5" r="1.5"/>
<circle cx="145.4" cy="1135.5" r="1.5"/>
<circle cx="152.2" cy="1135.5" r="1.5"/>
<circle cx="158.5" cy="1135.5" r="1.5"/>
<circle cx="164.7" cy="1135.5" r="1.5"/>
<circle cx="171" cy="1135.5" r="1.5"/>
<use href="#qr" x="228.1" y="795.2"/>
<path d="M245.1 978.72H259M245.1 971.73H259M245.1 964.74H259M245.1 957.74H259M245.1 950.75H259M245.1 943.76H259M245.1 936.76H259M245.1 929.77H259M245.1 922.78H259M245.1 915.78H259M245.1 908.79H259M245.1 901.8H259M245.1 894.81H259M245.1 887.81H259M245.1 880.82H259M245.1 873.83H259M245.1 866.83H259M245.1 859.84H259M245.1 852.85H259M245.1 845.85H259M245.1 838.86H259M245.1 831.87H259M245.1 824.88H259M245.1 817.88H259" fill="none" stroke-width="1.7"/>
<line x1="248.05" y1="818.68" x2="248.05" y2="888" stroke-width="1.25"/>
<use href="#nh" x="252.3" y="817.88"/>
<rect x="240.2" y="867" width="7.6" height="2.9"/>
<rect x="240.2" y="872.8" width="7.6" height="2.9"/>
<rect x="240.2" y="878.6" width="7.6" height="2.9"/>
<path d="M236.1 978.72H250M236.1 971.73H250M236.1 964.74H250M236.1 957.74H250M236.1 950.75H250M236.1 943.76H250" fill="none" stroke-width="1.7"/>
<line x1="239.05" y1="941.06" x2="239.05" y2="1011" stroke-width="1.25"/>
<use href="#nh" x="243.3" y="940.26"/>
<rect x="231.4" y="993.1" width="7.6" height="2.8"/>
<rect x="231.4" y="998.7" width="7.6" height="2.8"/>
<rect x="231.4" y="1004.2" width="7.6" height="2.8"/>
<path d="M309.7 978.72H323.6M309.7 971.73H323.6M309.7 964.74H323.6M309.7 957.74H323.6M309.7 950.75H323.6M309.7 943.76H323.6" fill="none" stroke-width="1.7"/>
<line x1="312.65" y1="941.06" x2="312.65" y2="999.6" stroke-width="1.25"/>
<use href="#nh" x="316.9" y="940.26"/>
<path d="M318.4 978.72H332.3M318.4 971.73H332.3M318.4 964.74H332.3M318.4 957.74H332.3M318.4 950.75H332.3M318.4 943.76H332.3M318.4 936.76H332.3M318.4 929.77H332.3M318.4 922.78H332.3M318.4 915.78H332.3M318.4 908.79H332.3M318.4 901.8H332.3M318.4 894.81H332.3M318.4 887.81H332.3M318.4 880.82H332.3M318.4 873.83H332.3M318.4 866.83H332.3M318.4 859.84H332.3M318.4 852.85H332.3M318.4 845.85H332.3M318.4 838.86H332.3M318.4 831.87H332.3M318.4 824.88H332.3M318.4 817.88H332.3M318.4 810.89H332.3M318.4 803.9H332.3M318.4 796.9H332.3M318.4 789.91H332.3M318.4 782.92H332.3" fill="none" stroke-width="1.7"/>
<line x1="321.35" y1="780.22" x2="321.35" y2="999.6" stroke-width="1.25"/>
<use href="#nh" x="325.6" y="779.42"/>
<path d="M402 978.72H415.9M402 971.73H415.9M402 964.74H415.9M402 957.74H415.9M402 950.75H415.9M402 943.76H415.9M402 936.76H415.9M402 929.77H415.9M402 922.78H415.9M402 915.78H415.9M402 908.79H415.9M402 901.8H415.9M402 894.81H415.9M402 887.81H415.9M402 880.82H415.9M402 873.83H415.9M402 866.83H415.9M402 859.84H415.9M402 852.85H415.9M402 845.85H415.9M402 838.86H415.9M402 831.87H415.9M402 824.88H415.9M402 817.88H415.9M402 810.89H415.9M402 803.9H415.9M402 796.9H415.9M402 789.91H415.9M402 782.92H415.9M402 775.92H415.9" fill="none" stroke-width="1.7"/>
<line x1="404.95" y1="776.72" x2="404.95" y2="999.6" stroke-width="1.25"/>
<use href="#nh" x="409.2" y="775.92"/>
<use href="#sh" x="398.1" y="775.92"/>
<use href="#qr" x="380.5" y="917.1"/>
<path d="M321.9 1062.64H335.8M321.9 1055.64H335.8M321.9 1048.65H335.8M321.9 1041.66H335.8M321.9 1034.66H335.8M321.9 1027.67H335.8M321.9 1020.68H335.8" fill="none" stroke-width="1.7"/>
<line x1="333.2" y1="999.6" x2="333.2" y2="1062" stroke-width="1.25"/>
<use href="#nh" x="329" y="1062.64"/>
<path d="M345.1 1125.57H358.6M345.1 1118.58H358.6M345.1 1111.59H358.6M345.1 1104.6H358.6M345.1 1097.6H358.6M345.1 1090.61H358.6M345.1 1083.62H358.6M345.1 1076.62H358.6M345.1 1069.63H358.6M345.1 1062.64H358.6M345.1 1055.64H358.6M345.1 1048.65H358.6M345.1 1041.66H358.6M345.1 1034.66H358.6M345.1 1027.67H358.6M345.1 1020.68H358.6" fill="none" stroke-width="1.7"/>
<line x1="355.4" y1="1074" x2="355.4" y2="1124" stroke-width="1.25"/>
<use href="#nh" x="351" y="1125.57"/>
<circle cx="360.9" cy="1121.7" r="1.5"/>
<circle cx="367.2" cy="1121.7" r="1.5"/>
<circle cx="373.5" cy="1121.7" r="1.5"/>
<polygon points="355,1079.8 469,1079.8 469,1083.2 355,1083.2"/>
<polygon points="355,1085.7 469,1085.7 469,1089.1 355,1089.1"/>
<path d="M353.5 1131C380.62 1136.33 434.88 1136.83 462 1131.5C434.88 1138.57 380.62 1138.07 353.5 1131Z" stroke-width="0.35" stroke="#000"/>
<path d="M404.9 1055.64H418.8M404.9 1048.65H418.8M404.9 1041.66H418.8M404.9 1034.66H418.8M404.9 1027.67H418.8M404.9 1020.68H418.8" fill="none" stroke-width="1.7"/>
<line x1="416.2" y1="999.6" x2="416.2" y2="1058" stroke-width="1.25"/>
<use href="#nh" x="412" y="1059.14"/>
<use href="#sh" x="400.6" y="1060.4"/>
<use href="#qr" x="265.8" y="1146.8"/>
<use href="#qr" x="281.7" y="1146.8"/>
<use href="#qr" x="360.9" y="1146.8"/>
<use href="#qr" x="394.4" y="1146.8"/>
<path d="M423.9 978.72H437.8M423.9 971.73H437.8M423.9 964.74H437.8M423.9 957.74H437.8M423.9 950.75H437.8M423.9 943.76H437.8M423.9 936.76H437.8" fill="none" stroke-width="1.7"/>
<line x1="426.85" y1="937.56" x2="426.85" y2="999.6" stroke-width="1.25"/>
<use href="#nh" x="431.1" y="936.76"/>
<use href="#sh" x="418.4" y="936.76"/>
<path d="M523.4 978.72H537.3M523.4 971.73H537.3M523.4 964.74H537.3M523.4 957.74H537.3M523.4 950.75H537.3M523.4 943.76H537.3M523.4 936.76H537.3M523.4 929.77H537.3M523.4 922.78H537.3M523.4 915.78H537.3M523.4 908.79H537.3M523.4 901.8H537.3M523.4 894.81H537.3M523.4 887.81H537.3M523.4 880.82H537.3M523.4 873.83H537.3M523.4 866.83H537.3M523.4 859.84H537.3M523.4 852.85H537.3M523.4 845.85H537.3M523.4 838.86H537.3M523.4 831.87H537.3M523.4 824.88H537.3M523.4 817.88H537.3M523.4 810.89H537.3" fill="none" stroke-width="1.7"/>
<line x1="526.35" y1="811.69" x2="526.35" y2="999.6" stroke-width="1.25"/>
<use href="#nh" x="530.6" y="810.89"/>
<use href="#sh" x="520.1" y="810.89"/>
<use href="#qr" x="570.9" y="788.8"/>
<use href="#qr" x="503" y="914.6"/>
<use href="#qr" x="516.1" y="1011.4"/>
<line x1="540.65" y1="1016.38" x2="540.65" y2="992.5" stroke-width="1.25"/>
<use href="#nh" x="536.4" y="1017.18"/>
<use href="#sh" x="526.1" y="1017.18"/>
<circle cx="605.5" cy="1002.9" r="1.75"/>
<path d="M604.7 1004.2Q607.9 1005.1 609.8 1002.3" fill="none" stroke-width="1"/>
<circle cx="603.8" cy="1009.89" r="1.75"/>
<path d="M603 1011.19Q606.2 1012.09 607.9 1009.29" fill="none" stroke-width="1"/>
<circle cx="602.1" cy="1016.89" r="1.75"/>
<path d="M601.3 1018.19Q604.5 1019.09 606 1016.29" fill="none" stroke-width="1"/>
<circle cx="600.4" cy="1023.88" r="1.75"/>
<path d="M599.6 1025.18Q602.8 1026.08 604.1 1023.28" fill="none" stroke-width="1"/>
<line x1="610" y1="1002" x2="602.8" y2="1034.58" stroke-width="1.05"/>
<path d="M457.7 1125.57H471.8M457.7 1118.58H471.8M457.7 1111.59H471.8M457.7 1104.6H471.8M457.7 1097.6H471.8M457.7 1090.61H471.8M457.7 1083.62H471.8M457.7 1076.62H471.8M457.7 1069.63H471.8M457.7 1062.64H471.8M457.7 1055.64H471.8M457.7 1048.65H471.8M457.7 1041.66H471.8M457.7 1034.66H471.8M457.7 1027.67H471.8M457.7 1020.68H471.8" fill="none" stroke-width="1.7"/>
<line x1="468.6" y1="1074" x2="468.6" y2="1124" stroke-width="1.25"/>
<use href="#nh" x="464.4" y="1125.57"/>
<rect x="460" y="1092.3" width="9" height="3.2"/>
<use href="#qr" x="486.6" y="1078.9"/>
<use href="#qr" x="494.2" y="1078.9"/>
<path d="M619.6 978.72H633.5M619.6 971.73H633.5M619.6 964.74H633.5" fill="none" stroke-width="1.7"/>
<line x1="622.55" y1="965.53" x2="622.55" y2="999.6" stroke-width="1.25"/>
<use href="#nh" x="626.8" y="964.74"/>
<path d="M634.8 978.72H648.7M634.8 971.73H648.7M634.8 964.74H648.7M634.8 957.74H648.7M634.8 950.75H648.7M634.8 943.76H648.7M634.8 936.76H648.7M634.8 929.77H648.7M634.8 922.78H648.7M634.8 915.78H648.7M634.8 908.79H648.7M634.8 901.8H648.7M634.8 894.81H648.7M634.8 887.81H648.7M634.8 880.82H648.7M634.8 873.83H648.7M634.8 866.83H648.7M634.8 859.84H648.7M634.8 852.85H648.7M634.8 845.85H648.7M634.8 838.86H648.7M634.8 831.87H648.7M634.8 824.88H648.7M634.8 817.88H648.7M634.8 810.89H648.7M634.8 803.9H648.7M634.8 796.9H648.7M634.8 789.91H648.7" fill="none" stroke-width="1.7"/>
<line x1="637.75" y1="787.21" x2="637.75" y2="999.6" stroke-width="1.25"/>
<use href="#nh" x="642" y="786.41"/>
<path d="M625 1097.6H637.8M625 1090.61H637.8M625 1083.62H637.8M625 1076.62H637.8M625 1069.63H637.8M625 1062.64H637.8M625 1055.64H637.8M625 1048.65H637.8M625 1041.66H637.8M625 1034.66H637.8M625 1027.67H637.8M625 1020.68H637.8" fill="none" stroke-width="1.7"/>
<line x1="635.6" y1="999.6" x2="635.6" y2="1044" stroke-width="1.25"/>
<use href="#nh" x="631.3" y="1045.15"/>
<use href="#nh" x="631.3" y="1101.1"/>
<line x1="627.1" y1="1101" x2="627.1" y2="1119" stroke-width="1.25"/>
<use href="#sh" x="620.5" y="1045.2"/>
<use href="#qr" x="706" y="942.2"/>
<path d="M733.4 978.72H747.3M733.4 971.73H747.3M733.4 964.74H747.3M733.4 957.74H747.3M733.4 950.75H747.3M733.4 943.76H747.3M733.4 936.76H747.3M733.4 929.77H747.3M733.4 922.78H747.3M733.4 915.78H747.3M733.4 908.79H747.3M733.4 901.8H747.3M733.4 894.81H747.3M733.4 887.81H747.3M733.4 880.82H747.3M733.4 873.83H747.3M733.4 866.83H747.3M733.4 859.84H747.3M733.4 852.85H747.3M733.4 845.85H747.3M733.4 838.86H747.3M733.4 831.87H747.3M733.4 824.88H747.3" fill="none" stroke-width="1.7"/>
<line x1="736.35" y1="822.18" x2="736.35" y2="999.6" stroke-width="1.25"/>
<use href="#nh" x="740.6" y="821.38"/>
<use href="#sh" x="729.4" y="821.38"/>
<path d="M745.7 819.2C757.53 810.93 781.17 810.93 793 819.2C781.17 809.2 757.53 809.2 745.7 819.2Z" stroke-width="0.35" stroke="#000"/>
<path d="M753.4 978.72H767.3M753.4 971.73H767.3M753.4 964.74H767.3M753.4 957.74H767.3M753.4 950.75H767.3" fill="none" stroke-width="1.7"/>
<line x1="756.35" y1="948.05" x2="756.35" y2="999.6" stroke-width="1.25"/>
<use href="#nh" x="760.6" y="947.25"/>
<path d="M765 950C772 955.33 786 956.33 793 951C786 958.07 772 957.07 765 950Z" stroke-width="0.35" stroke="#000"/>
<path d="M736.35 999.4C740.42 994 744.49 984.4 743.75 969.4" fill="none" stroke-width="1"/>
<line x1="736.35" y1="994.85" x2="740.17" y2="990.85" stroke-width="1.15"/>
<line x1="736.35" y1="990.31" x2="741.41" y2="986.31" stroke-width="1.15"/>
<line x1="736.35" y1="985.76" x2="742.64" y2="981.76" stroke-width="1.15"/>
<line x1="736.35" y1="981.22" x2="743.75" y2="977.22" stroke-width="1.15"/>
<line x1="736.35" y1="976.67" x2="743.75" y2="972.67" stroke-width="1.15"/>
<line x1="736.35" y1="972.13" x2="743.6" y2="968.13" stroke-width="1.15"/>
<path d="M756.35 999.4C760.42 994 764.49 984.4 763.75 969.4" fill="none" stroke-width="1"/>
<line x1="756.35" y1="994.85" x2="760.17" y2="990.85" stroke-width="1.15"/>
<line x1="756.35" y1="990.31" x2="761.41" y2="986.31" stroke-width="1.15"/>
<line x1="756.35" y1="985.76" x2="762.64" y2="981.76" stroke-width="1.15"/>
<line x1="756.35" y1="981.22" x2="763.75" y2="977.22" stroke-width="1.15"/>
<line x1="756.35" y1="976.67" x2="763.75" y2="972.67" stroke-width="1.15"/>
<line x1="756.35" y1="972.13" x2="763.6" y2="968.13" stroke-width="1.15"/>
<path d="M736.9 1055.64H750.8M736.9 1048.65H750.8M736.9 1041.66H750.8M736.9 1034.66H750.8M736.9 1027.67H750.8M736.9 1020.68H750.8" fill="none" stroke-width="1.7"/>
<line x1="748.2" y1="999.6" x2="748.2" y2="1055" stroke-width="1.25"/>
<use href="#nh" x="743.9" y="1055.64"/>
<use href="#sh" x="732.6" y="1056.7"/>
<path d="M748.2 1000C751.17 1006.39 754.14 1017.75 753.6 1035.5" fill="none" stroke-width="1"/>
<line x1="748.2" y1="1005.38" x2="750.99" y2="1010.58" stroke-width="1.15"/>
<line x1="748.2" y1="1010.76" x2="751.89" y2="1015.96" stroke-width="1.15"/>
<line x1="748.2" y1="1016.14" x2="752.79" y2="1021.34" stroke-width="1.15"/>
<line x1="748.2" y1="1021.52" x2="753.6" y2="1026.72" stroke-width="1.15"/>
<line x1="748.2" y1="1026.89" x2="753.6" y2="1032.09" stroke-width="1.15"/>
<line x1="748.2" y1="1032.27" x2="753.49" y2="1037.47" stroke-width="1.15"/>
<path d="M750.5 1052.2C761 1045.8 782 1045.8 792.5 1052.2C782 1044.07 761 1044.07 750.5 1052.2Z" stroke-width="0.35" stroke="#000"/>
<path d="M758.3 1104.6H771.6M758.3 1097.6H771.6M758.3 1090.61H771.6M758.3 1083.62H771.6M758.3 1076.62H771.6M758.3 1069.63H771.6M758.3 1062.64H771.6M758.3 1055.64H771.6M758.3 1048.65H771.6M758.3 1041.66H771.6M758.3 1034.66H771.6M758.3 1027.67H771.6M758.3 1020.68H771.6" fill="none" stroke-width="1.7"/>
<use href="#nh" x="764.6" y="1104.6"/>
<use href="#sh" x="753.8" y="1105.3"/>
<line x1="760.7" y1="1105" x2="760.7" y2="1137.8" stroke-width="1.25"/>
<path d="M760.7 1137.8C764.66 1132.22 768.62 1122.3 767.9 1106.8" fill="none" stroke-width="1"/>
<line x1="760.7" y1="1133.1" x2="764.42" y2="1129.1" stroke-width="1.15"/>
<line x1="760.7" y1="1128.41" x2="765.62" y2="1124.41" stroke-width="1.15"/>
<line x1="760.7" y1="1123.71" x2="766.82" y2="1119.71" stroke-width="1.15"/>
<line x1="760.7" y1="1119.01" x2="767.9" y2="1115.01" stroke-width="1.15"/>
<line x1="760.7" y1="1114.32" x2="767.9" y2="1110.32" stroke-width="1.15"/>
<line x1="760.7" y1="1109.62" x2="767.76" y2="1105.62" stroke-width="1.15"/>
<circle cx="777.5" cy="1118.6" r="1.75"/>
<path d="M776.7 1119.9Q779.9 1120.8 781.8 1118" fill="none" stroke-width="1"/>
<circle cx="775.8" cy="1125.59" r="1.75"/>
<path d="M775 1126.89Q778.2 1127.79 779.9 1124.99" fill="none" stroke-width="1"/>
<circle cx="774.1" cy="1132.59" r="1.75"/>
<path d="M773.3 1133.89Q776.5 1134.79 778 1131.99" fill="none" stroke-width="1"/>
<circle cx="772.4" cy="1139.58" r="1.75"/>
<path d="M771.6 1140.88Q774.8 1141.78 776.1 1138.98" fill="none" stroke-width="1"/>
<line x1="782" y1="1117.7" x2="774.8" y2="1150.28" stroke-width="1.05"/>
<path d="M769.1 1111.4C774.95 1116.2 786.65 1116.2 792.5 1111.4C786.65 1117.93 774.95 1117.93 769.1 1111.4Z" stroke-width="0.35" stroke="#000"/>
<use href="#qr" x="671.5" y="1120.4"/>
<use href="#qr" x="725.1" y="1120.4"/>
</svg>
</body></html>
